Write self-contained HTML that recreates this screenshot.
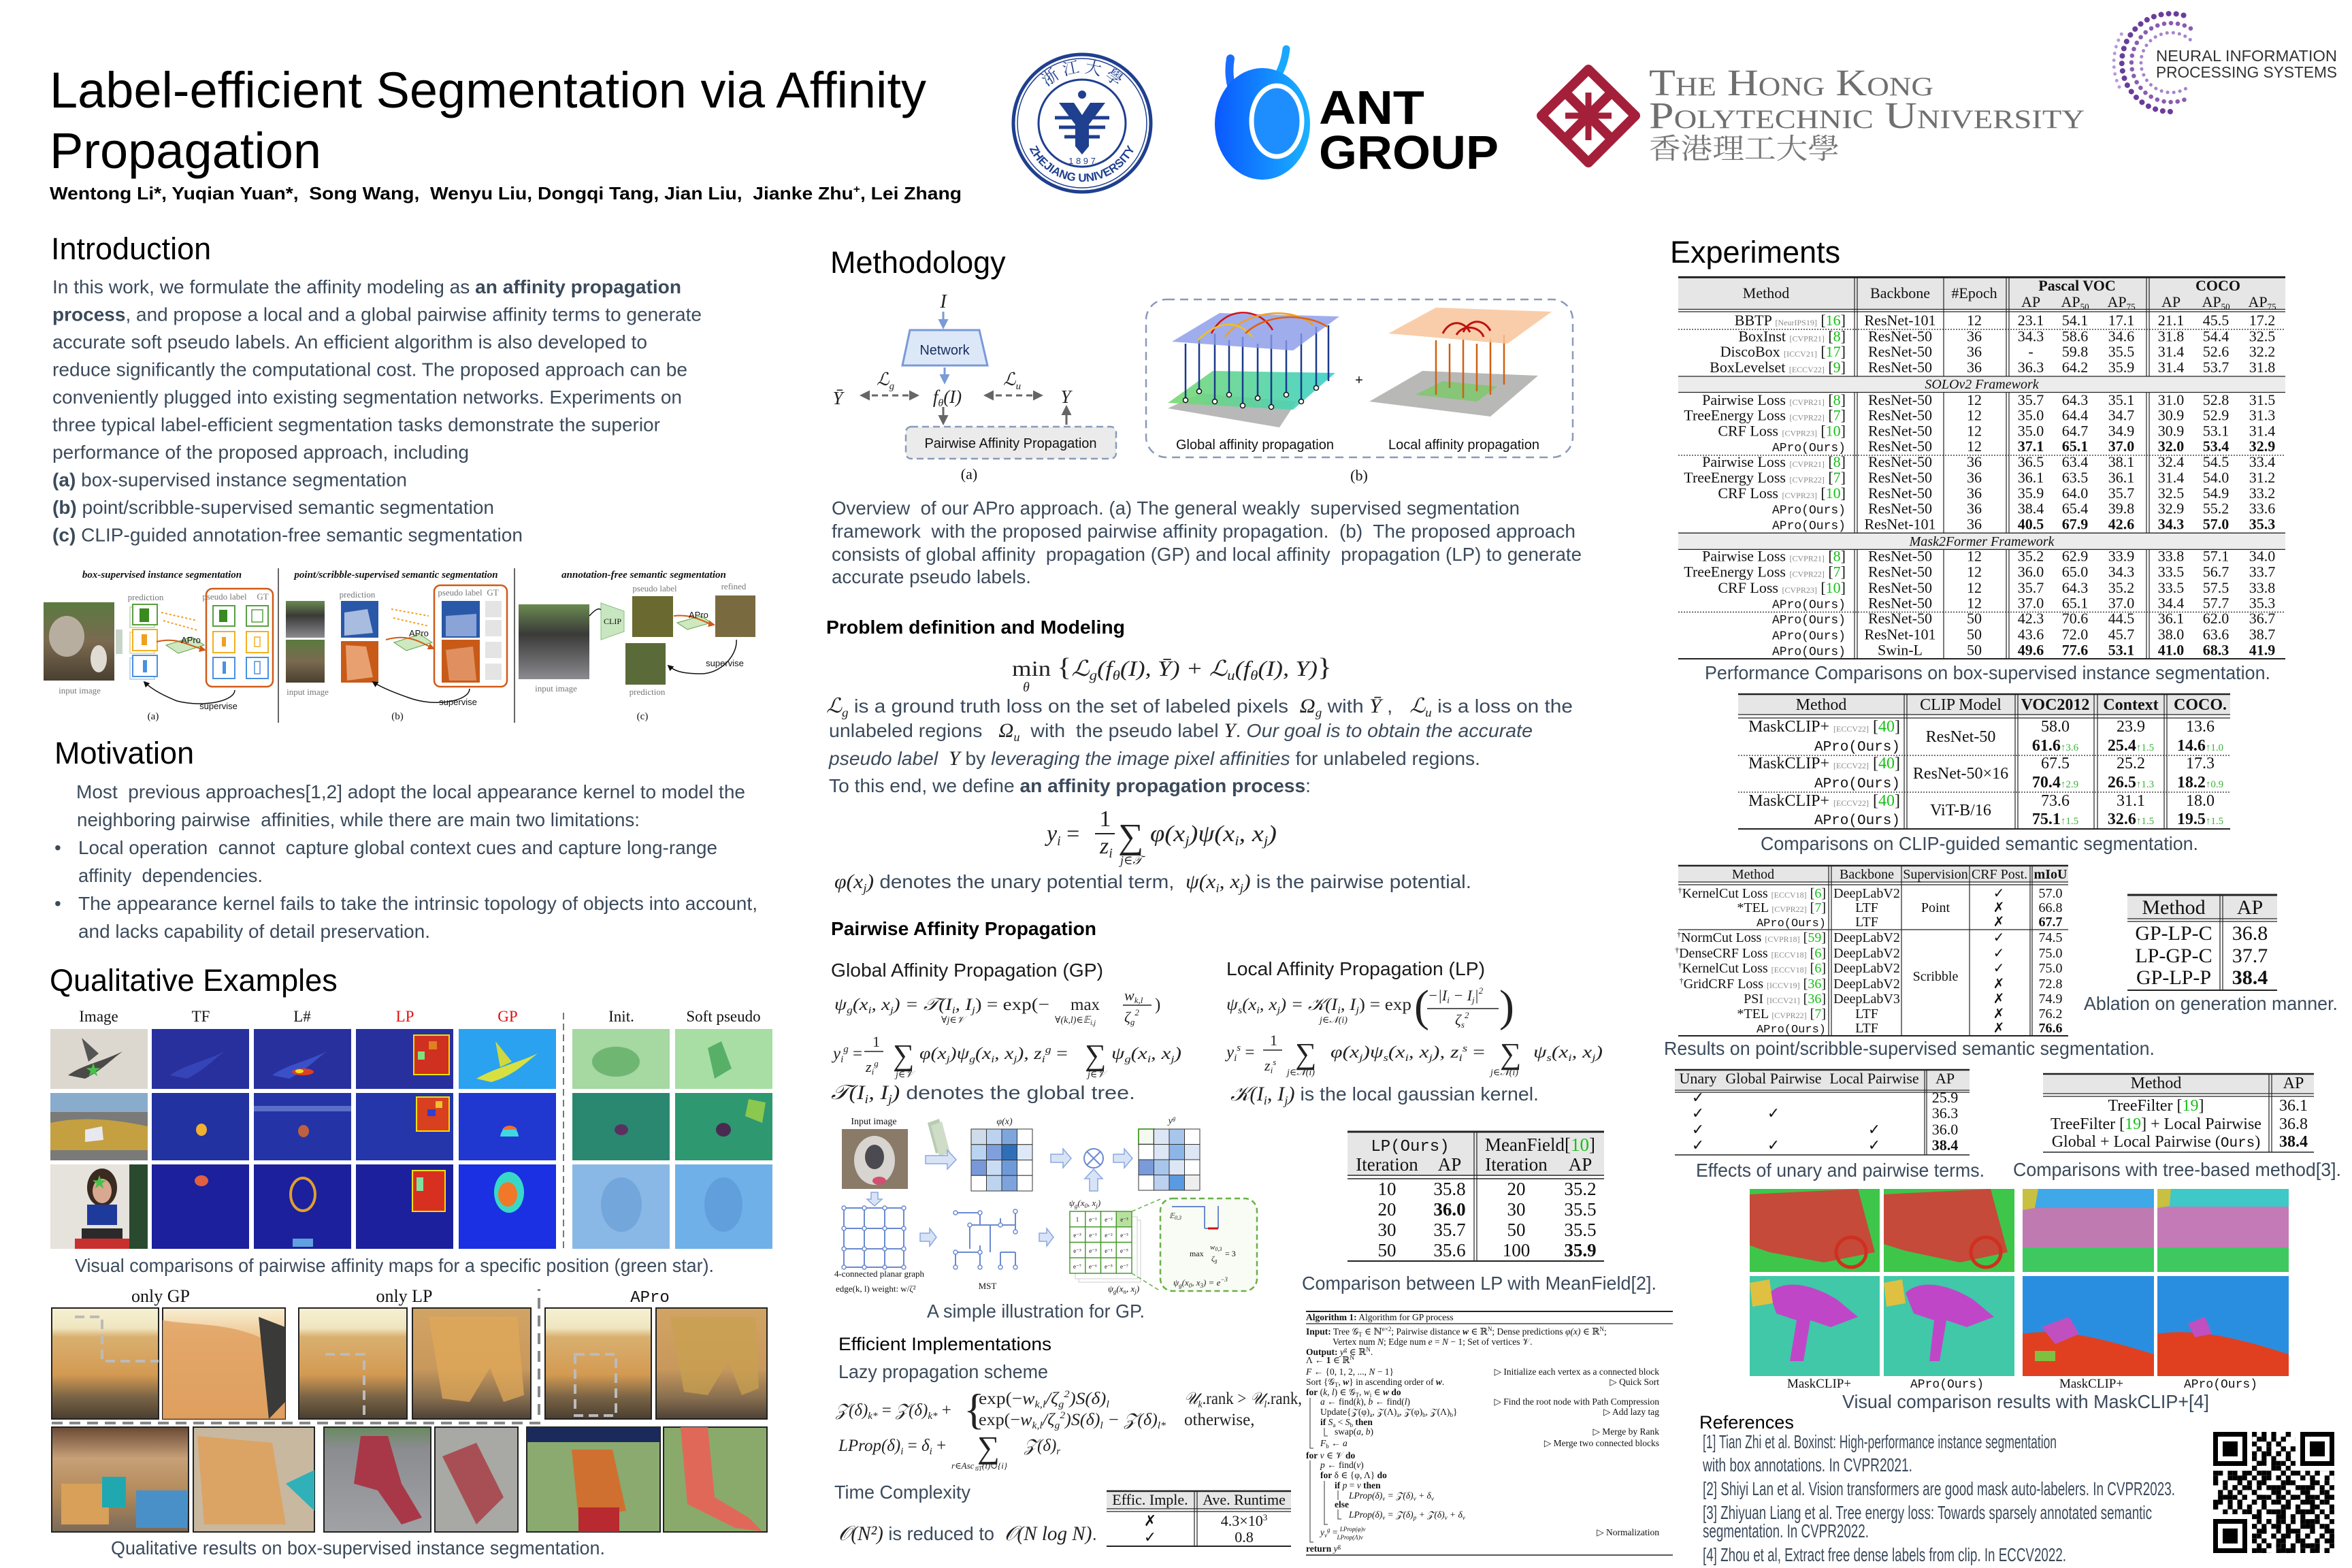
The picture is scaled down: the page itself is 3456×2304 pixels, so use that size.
<!DOCTYPE html>
<html><head><meta charset="utf-8">
<style>
html,body{margin:0;padding:0;background:#fff;}
svg{display:block;font-family:"Liberation Sans","Noto Sans CJK SC","DejaVu Sans",sans-serif;}
.s{fill:#3b4a5b;font-size:28px;}
.h{fill:#000;font-size:45px;}
.sf{font-family:"Liberation Serif","Noto Serif CJK SC","DejaVu Serif",serif;}
.mo{font-family:"Liberation Mono","DejaVu Sans Mono",monospace;}
.m{font-family:"Liberation Serif","DejaVu Serif",serif;font-style:italic;fill:#222;}
.tb{font-family:"Liberation Serif","DejaVu Sans",serif;fill:#111;}
.ven{font-size:12px;fill:#8a8a8a;}
.g{fill:#14c014;}
.bd{font-weight:bold;}
.al{font-family:"Liberation Serif","DejaVu Serif",serif;font-size:13.5px;fill:#111;}
.ln{stroke:#222;fill:none;}
</style></head><body>
<svg xmlns="http://www.w3.org/2000/svg" width="3456" height="2304" viewBox="0 0 3456 2304">
<defs>
<linearGradient id="ant" x1="0" y1="0" x2="1" y2="0"><stop offset="0" stop-color="#0a58ff"/><stop offset="1" stop-color="#1ab2ff"/></linearGradient>
<linearGradient id="cow" x1="0" y1="0" x2="0" y2="1"><stop offset="0" stop-color="#f6f0d2"/><stop offset=".18" stop-color="#efe6c0"/><stop offset=".26" stop-color="#d9b070"/><stop offset=".6" stop-color="#d39a52"/><stop offset=".8" stop-color="#7a6446"/><stop offset="1" stop-color="#4a3e30"/></linearGradient>
<linearGradient id="cowz" x1="0" y1="0" x2="0" y2="1"><stop offset="0" stop-color="#f8f0d4"/><stop offset=".3" stop-color="#ecc088"/><stop offset="1" stop-color="#d99c5a"/></linearGradient>
<linearGradient id="cowl" x1="0" y1="0" x2="0" y2="1"><stop offset="0" stop-color="#d2a464"/><stop offset=".55" stop-color="#c8985c"/><stop offset=".8" stop-color="#8a7050"/><stop offset="1" stop-color="#4e4236"/></linearGradient>
<linearGradient id="room" x1="0" y1="0" x2="0" y2="1"><stop offset="0" stop-color="#6a4a36"/><stop offset=".3" stop-color="#c8a078"/><stop offset=".65" stop-color="#b08858"/><stop offset="1" stop-color="#7a6a5a"/></linearGradient>
<linearGradient id="skate" x1="0" y1="0" x2="0" y2="1"><stop offset="0" stop-color="#6a8a60"/><stop offset=".2" stop-color="#8a8c90"/><stop offset="1" stop-color="#a0a2a6"/></linearGradient>
<linearGradient id="photo" x1="0" y1="0" x2="0" y2="1"><stop offset="0" stop-color="#5a7a40"/><stop offset=".5" stop-color="#7a6a50"/><stop offset="1" stop-color="#4a4030"/></linearGradient>
<linearGradient id="wed" x1="0" y1="0" x2="0" y2="1"><stop offset="0" stop-color="#6a8a50"/><stop offset=".4" stop-color="#3a3a38"/><stop offset="1" stop-color="#8a8a90"/></linearGradient>
<linearGradient id="gplane" x1="0" y1="0" x2="1" y2="0"><stop offset="0" stop-color="#7ad870"/><stop offset="1" stop-color="#38d0c8"/></linearGradient>
<pattern id="qa" x="3252" y="2104" width="35.6" height="35.6" patternUnits="userSpaceOnUse">
<rect x="0" y="0" width="7.2" height="7.2"/><rect x="14.2" y="7.1" width="7.2" height="7.2"/><rect x="28.5" y="7.1" width="7.2" height="7.2"/><rect x="7.1" y="21.4" width="7.2" height="7.2"/><rect x="21.4" y="14.2" width="7.2" height="7.2"/><rect x="0" y="28.5" width="7.2" height="7.2"/><rect x="21.4" y="28.5" width="7.2" height="7.2"/><rect x="28.5" y="21.4" width="7.2" height="7.2"/></pattern>
<pattern id="qb" x="3252" y="2104" width="49.8" height="49.8" patternUnits="userSpaceOnUse">
<rect x="7.1" y="0" width="7.2" height="7.2"/><rect x="35.6" y="0" width="7.2" height="7.2"/><rect x="21.4" y="7.1" width="7.2" height="7.2"/><rect x="42.7" y="14.2" width="7.2" height="7.2"/><rect x="0" y="21.4" width="7.2" height="7.2"/><rect x="14.2" y="21.4" width="7.2" height="7.2"/><rect x="28.5" y="28.5" width="7.2" height="7.2"/><rect x="7.1" y="35.6" width="7.2" height="7.2"/><rect x="35.6" y="35.6" width="7.2" height="7.2"/><rect x="21.4" y="42.7" width="7.2" height="7.2"/><rect x="42.7" y="42.7" width="7.2" height="7.2"/><rect x="14.2" y="42.7" width="7.2" height="7.2"/><rect x="0" y="7.1" width="7.2" height="7.2"/><rect x="28.5" y="14.2" width="7.2" height="7.2"/><rect x="42.7" y="28.5" width="7.2" height="7.2"/></pattern>
<marker id="ah" viewBox="0 0 10 10" refX="8" refY="5" markerWidth="5" markerHeight="5" orient="auto-start-reverse"><path d="M0 0 L10 5 L0 10 Z" fill="#666"/></marker>
<marker id="ab" viewBox="0 0 10 10" refX="8" refY="5" markerWidth="5" markerHeight="5" orient="auto-start-reverse"><path d="M0 0 L10 5 L0 10 Z" fill="#7a9ad8"/></marker>
<marker id="ak" viewBox="0 0 10 10" refX="8" refY="5" markerWidth="6" markerHeight="6" orient="auto"><path d="M0 0 L10 5 L0 10 Z" fill="#111"/></marker>
<marker id="ao" viewBox="0 0 10 10" refX="8" refY="5" markerWidth="5" markerHeight="5" orient="auto"><path d="M0 0 L10 5 L0 10 Z" fill="#d05a18"/></marker>
<path id="zjb" d="M -86 0 A 86 86 0 0 0 86 0" fill="none"/>
<path id="zjt" d="M -74 0 A 74 74 0 0 1 74 0" fill="none"/>
</defs>
<rect x="0" y="0" width="3456" height="2304" fill="#fff"/>

<!-- ============ HEADER ============ -->
<text x="73" y="158" font-size="74" fill="#000" textLength="1288" lengthAdjust="spacingAndGlyphs">Label-efficient Segmentation via Affinity</text>
<text x="73" y="247" font-size="74" fill="#000">Propagation</text>
<text x="73" y="293" font-size="26" font-weight="bold" fill="#000" style="white-space:pre" textLength="1340" lengthAdjust="spacingAndGlyphs">Wentong Li*, Yuqian Yuan*,  Song Wang,  Wenyu Liu, Dongqi Tang, Jian Liu,  Jianke Zhu<tspan font-size="16" dy="-10">+</tspan><tspan dy="10">, Lei Zhang</tspan></text>

<!-- ZJU seal -->
<g transform="translate(1590,181)">
<circle r="101" fill="#fff" stroke="#1f3f8f" stroke-width="5"/>
<circle r="95" fill="none" stroke="#1f3f8f" stroke-width="1.5"/>
<circle r="64" fill="none" stroke="#1f3f8f" stroke-width="3"/>
<text font-size="17" font-weight="bold" fill="#1f3f8f"><textPath href="#zjb" startOffset="50%" text-anchor="middle">ZHEJIANG UNIVERSITY</textPath></text>
<text font-size="24" fill="#1f3f8f" class="sf"><textPath href="#zjt" startOffset="50%" text-anchor="middle">浙 江 大 學</textPath></text>
<path d="M-34 -30 L-12 -30 L0 -12 L12 -30 L34 -30 L10 2 L10 34 L0 46 L-10 34 L-10 2 Z" fill="#1f3f8f"/>
<path d="M-40 -8 L40 -8 M-34 6 L34 6 M-26 20 L26 20" stroke="#1f3f8f" stroke-width="5"/>
<circle cx="0" cy="-42" r="6" fill="#1f3f8f"/>
<text x="0" y="60" font-size="13" fill="#1f3f8f" text-anchor="middle">1 8 9 7</text>
</g>

<!-- ANT GROUP -->
<path d="M1808 86 C1804 108 1808 128 1816 146" stroke="#1a6dff" stroke-width="12" fill="none" stroke-linecap="round"/>
<path d="M1890 72 C1888 88 1884 100 1876 114" stroke="#18a8ff" stroke-width="11" fill="none" stroke-linecap="round"/>
<ellipse cx="1855" cy="182" rx="70" ry="82" fill="url(#ant)"/>
<ellipse cx="1876" cy="178" rx="37" ry="52" fill="#1e8eff" stroke="#fff" stroke-width="7"/>
<text x="1938" y="182" font-size="70" font-weight="bold" fill="#000" textLength="155" lengthAdjust="spacingAndGlyphs">ANT</text>
<text x="1938" y="248" font-size="70" font-weight="bold" fill="#000" textLength="264" lengthAdjust="spacingAndGlyphs">GROUP</text>

<!-- PolyU -->
<g fill="none" stroke="#a4203a" stroke-width="14" stroke-linejoin="round">
<path d="M2334 102 L2403 170 L2334 239 L2265 170 Z"/>
<path d="M2300 136 L2370 206 M2368 136 L2298 206"/>
<path d="M2334 136 L2334 206 M2300 170 L2368 170" stroke-width="9"/>
</g>
<text x="2423" y="140" class="sf" font-size="55" fill="#6f6f6f" style="font-variant:small-caps" textLength="418" lengthAdjust="spacingAndGlyphs">The Hong Kong</text>
<text x="2423" y="188" class="sf" font-size="55" fill="#6f6f6f" style="font-variant:small-caps" textLength="640" lengthAdjust="spacingAndGlyphs">Polytechnic University</text>
<text x="2423" y="233" font-size="42" fill="#777" style="font-family:'Noto Serif CJK SC','Noto Sans CJK TC',serif" textLength="280" lengthAdjust="spacingAndGlyphs">香港理工大學</text>

<!-- NeurIPS -->
<g fill="none" stroke-linecap="round">
<path d="M3208.6 22.5 A72 72 0 1 0 3196.3 163.7" stroke="#6a3d9a" stroke-width="8" stroke-dasharray="0.1 11"/>
<path d="M3219 41.8 A58 58 0 1 0 3209.8 146.5" stroke="#8a5cb0" stroke-width="6.5" stroke-dasharray="0.1 10"/>
<path d="M3218.3 58.3 A44 44 0 1 0 3215.2 128" stroke="#a583cc" stroke-width="5" stroke-dasharray="0.1 9"/>
<path d="M3117.3 50 A84 84 0 0 0 3117.3 134" stroke="#b89ad8" stroke-width="5" stroke-dasharray="0.1 10"/>
</g>
<text x="3168" y="90" font-size="23" fill="#333" textLength="266" lengthAdjust="spacingAndGlyphs">NEURAL INFORMATION</text>
<text x="3168" y="114" font-size="23" fill="#333" textLength="266" lengthAdjust="spacingAndGlyphs">PROCESSING SYSTEMS</text>

<!-- ============ LEFT COLUMN ============ -->
<text x="75" y="381" class="h">Introduction</text>
<text x="77" y="431" class="s" textLength="924" lengthAdjust="spacingAndGlyphs">In this work, we formulate the affinity modeling as <tspan class="bd">an affinity propagation</tspan></text>
<text x="77" y="471.5" class="s" textLength="954" lengthAdjust="spacingAndGlyphs"><tspan class="bd">process</tspan>, and propose a local and a global pairwise affinity terms to generate</text>
<text x="77" y="512" class="s" textLength="874" lengthAdjust="spacingAndGlyphs">accurate soft pseudo labels. An efficient algorithm is also developed to</text>
<text x="77" y="552.5" class="s" textLength="933" lengthAdjust="spacingAndGlyphs">reduce significantly the computational cost. The proposed approach can be</text>
<text x="77" y="593" class="s" textLength="925" lengthAdjust="spacingAndGlyphs">conveniently plugged into existing segmentation networks. Experiments on</text>
<text x="77" y="633.5" class="s" textLength="893" lengthAdjust="spacingAndGlyphs">three typical label-efficient segmentation tasks demonstrate the superior</text>
<text x="77" y="674" class="s" textLength="612" lengthAdjust="spacingAndGlyphs">performance of the proposed approach, including</text>
<text x="77" y="714.5" class="s" textLength="521" lengthAdjust="spacingAndGlyphs"><tspan class="bd">(a)</tspan> box-supervised instance segmentation</text>
<text x="77" y="755" class="s" textLength="649" lengthAdjust="spacingAndGlyphs"><tspan class="bd">(b)</tspan> point/scribble-supervised semantic segmentation</text>
<text x="77" y="795.5" class="s" textLength="691" lengthAdjust="spacingAndGlyphs"><tspan class="bd">(c)</tspan> CLIP-guided annotation-free semantic segmentation</text>

<!-- intro figure -->
<g class="sf" font-style="italic" font-weight="bold" font-size="15" fill="#111" text-anchor="middle">
<text x="238" y="849">box-supervised instance segmentation</text>
<text x="582" y="849">point/scribble-supervised semantic segmentation</text>
<text x="946" y="849">annotation-free semantic segmentation</text>
</g>
<line x1="409" y1="835" x2="409" y2="1062" stroke="#333" stroke-width="1.5"/>
<line x1="756" y1="835" x2="756" y2="1062" stroke="#333" stroke-width="1.5"/>
<!-- panel a -->
<rect x="64" y="885" width="104" height="115" fill="url(#photo)"/>
<ellipse cx="98" cy="935" rx="26" ry="30" fill="#b8aea0"/><ellipse cx="145" cy="968" rx="12" ry="20" fill="#e0dcd4"/>
<rect x="170" y="925" width="10" height="36" fill="#c8d4c8"/>
<g class="sf" font-size="13" fill="#777" text-anchor="middle"><text x="214" y="882">prediction</text><text x="117" y="1019">input image</text><text x="452" y="1021">input image</text><text x="525" y="878">prediction</text><text x="817" y="1016">input image</text><text x="951" y="1021">prediction</text><text x="962" y="869">pseudo label</text><text x="1078" y="866">refined</text><text x="330" y="881">pseudo label</text><text x="386" y="881">GT</text><text x="676" y="875">pseudo label</text><text x="724" y="875">GT</text></g>
<g fill="#fff" stroke-width="2">
<rect x="191" y="892" width="36" height="30" stroke="#c8e0c0"/><rect x="195" y="888" width="36" height="30" stroke="#58a040"/>
<rect x="191" y="929" width="36" height="31" stroke="#f0dca0"/><rect x="195" y="925" width="36" height="31" stroke="#f0b020"/>
<rect x="191" y="967" width="36" height="31" stroke="#c0d8f0"/><rect x="195" y="963" width="36" height="31" stroke="#4a90e0"/>
<rect x="313" y="890" width="32" height="30" stroke="#58a040"/><rect x="362" y="890" width="32" height="30" stroke="#58a040"/>
<rect x="313" y="928" width="32" height="31" stroke="#f0b020"/><rect x="362" y="928" width="32" height="31" stroke="#f0b020"/>
<rect x="313" y="966" width="32" height="31" stroke="#4a90e0"/><rect x="362" y="966" width="32" height="31" stroke="#4a90e0"/>
</g>
<rect x="205" y="894" width="14" height="20" fill="#3a8a20"/><rect x="208" y="932" width="8" height="16" fill="#f0a020"/><rect x="210" y="970" width="6" height="18" fill="#4a90e0"/>
<rect x="322" y="896" width="12" height="18" fill="#3a8a20"/><rect x="326" y="936" width="6" height="14" fill="#f0a020"/><rect x="327" y="972" width="5" height="18" fill="#4a90e0"/>
<rect x="370" y="896" width="16" height="18" fill="none" stroke="#58a040" stroke-width="1.5"/><rect x="374" y="936" width="8" height="14" fill="none" stroke="#f0b020" stroke-width="1.5"/><rect x="374" y="972" width="8" height="18" fill="none" stroke="#4a90e0" stroke-width="1.5"/>
<rect x="303" y="865" width="98" height="144" rx="9" fill="none" stroke="#d05a18" stroke-width="2.5"/>
<path d="M244 948 L282 936 L300 948 L262 960 Z" fill="#cfe8c0" stroke="#5aa040" stroke-width="1"/>
<path d="M237 900 L290 912 M240 912 L290 926" stroke="#f0a020" stroke-width="2" stroke-dasharray="3 3"/>
<path d="M230 943 C260 935 280 950 301 955" stroke="#d05a18" stroke-width="2" fill="none" marker-end="url(#ao)"/>
<text x="266" y="945" font-size="13" fill="#111">APro</text>
<path d="M345 1014 C345 1030 300 1040 260 1030 C240 1022 222 1012 212 1002" stroke="#111" stroke-width="1.5" fill="none" marker-end="url(#ak)"/>
<text x="321" y="1042" font-size="13" fill="#111" text-anchor="middle">supervise</text>
<text x="225" y="1057" class="sf" font-size="15" fill="#111" text-anchor="middle">(a)</text>
<!-- panel b -->
<rect x="420" y="883" width="57" height="54" fill="url(#wed)"/><rect x="420" y="940" width="57" height="63" fill="url(#photo)"/>
<rect x="501" y="883" width="55" height="54" fill="#2a58a8"/><path d="M506 900 L540 895 L548 930 L506 934 Z" fill="#a8bce0"/>
<rect x="501" y="942" width="55" height="61" fill="#c85a18"/><path d="M508 948 L538 950 L548 995 L510 1000 Z" fill="#e8a070"/>
<path d="M579 944 L617 932 L635 944 L597 956 Z" fill="#cfe8c0" stroke="#5aa040" stroke-width="1"/>
<path d="M575 895 L630 905 M578 908 L630 920" stroke="#f0a020" stroke-width="2" stroke-dasharray="3 3"/>
<path d="M567 940 C600 930 620 945 637 953" stroke="#d05a18" stroke-width="2" fill="none" marker-end="url(#ao)"/>
<text x="601" y="935" font-size="13" fill="#111">APro</text>
<rect x="638" y="860" width="107" height="149" rx="9" fill="none" stroke="#d05a18" stroke-width="2.5"/>
<rect x="649" y="883" width="56" height="54" fill="#2a58a8"/><path d="M655 905 L700 902 L700 935 L655 935 Z" fill="#8aa4d8"/>
<rect x="649" y="940" width="56" height="63" fill="#c85a18"/><path d="M655 955 L695 950 L700 1000 L660 1000 Z" fill="#e09060"/>
<rect x="713" y="883" width="24" height="24" fill="#e4e4e4"/><rect x="713" y="911" width="24" height="24" fill="#e4e4e4"/><rect x="713" y="943" width="24" height="24" fill="#e4e4e4"/><rect x="713" y="975" width="24" height="24" fill="#e4e4e4"/>
<path d="M690 1012 C690 1030 640 1040 600 1025 C580 1018 560 1010 548 1002" stroke="#111" stroke-width="1.5" fill="none" marker-end="url(#ak)"/>
<text x="673" y="1036" font-size="13" fill="#111" text-anchor="middle">supervise</text>
<text x="584" y="1057" class="sf" font-size="15" fill="#111" text-anchor="middle">(b)</text>
<!-- panel c -->
<rect x="762" y="888" width="104" height="110" fill="url(#wed)"/>
<path d="M883 886 L917 898 L917 928 L883 940 Z" fill="#c8e6c0" stroke="#8ac080" stroke-width="1"/>
<text x="887" y="917" class="sf" font-size="12" fill="#111">CLIP</text>
<rect x="929" y="876" width="60" height="60" fill="#6a6a30"/><rect x="1051" y="875" width="59" height="61" fill="#7a6a40"/><rect x="919" y="945" width="59" height="61" fill="#5a6a38"/>
<path d="M866 905 C875 895 880 893 883 896" stroke="#111" stroke-width="1.5" fill="none"/>
<path d="M995 915 L1030 905 L1045 915 L1010 925 Z" fill="#cfe8c0" stroke="#5aa040" stroke-width="1"/>
<path d="M990 905 C1020 902 1035 915 1049 918" stroke="#d05a18" stroke-width="2" fill="none" marker-end="url(#ao)"/>
<text x="1012" y="908" font-size="13" fill="#111">APro</text>
<path d="M1082 940 C1084 962 1060 990 1030 990 C1000 990 990 985 982 978" stroke="#111" stroke-width="1.5" fill="none" marker-end="url(#ak)"/>
<text x="1065" y="979" font-size="13" fill="#111" text-anchor="middle">supervise</text>
<text x="944" y="1057" class="sf" font-size="15" fill="#111" text-anchor="middle">(c)</text>

<text x="80" y="1122" class="h">Motivation</text>
<text x="112" y="1173" class="s" style="white-space:pre" textLength="983" lengthAdjust="spacingAndGlyphs">Most  previous approaches[1,2] adopt the local appearance kernel to model the</text>
<text x="113" y="1214" class="s" style="white-space:pre" textLength="827" lengthAdjust="spacingAndGlyphs">neighboring pairwise  affinities, while there are main two limitations:</text>
<text x="80" y="1255" class="s">•</text>
<text x="115" y="1255" class="s" style="white-space:pre" textLength="939" lengthAdjust="spacingAndGlyphs">Local operation  cannot  capture global context cues and capture long-range</text>
<text x="115" y="1296" class="s" style="white-space:pre" textLength="271" lengthAdjust="spacingAndGlyphs">affinity  dependencies.</text>
<text x="80" y="1337" class="s">•</text>
<text x="115" y="1337" class="s" textLength="998" lengthAdjust="spacingAndGlyphs">The appearance kernel fails to take the intrinsic topology of objects into account,</text>
<text x="115" y="1378" class="s" textLength="517" lengthAdjust="spacingAndGlyphs">and lacks capability of detail preservation.</text>

<text x="73" y="1456" class="h">Qualitative Examples</text>
<g class="sf" font-size="23" text-anchor="middle" fill="#111">
<text x="145" y="1501">Image</text><text x="295" y="1501">TF</text><text x="444" y="1501">L#</text><text x="595" y="1501" fill="#e01010">LP</text><text x="746" y="1501" fill="#e01010">GP</text><text x="913" y="1501">Init.</text><text x="1063" y="1501">Soft pseudo</text>
</g>
<line x1="828" y1="1488" x2="828" y2="1838" stroke="#777" stroke-width="2" stroke-dasharray="10 6"/>
<!-- row 1 -->
<rect x="74" y="1512" width="143" height="88" fill="#dcd8d0"/>
<path d="M100 1580 C120 1565 150 1560 180 1545 C160 1560 150 1572 125 1585 Z" fill="#4a4a48"/><path d="M130 1560 L120 1525 L145 1548 Z" fill="#555"/>
<text x="126" y="1580" font-size="22" fill="#4ac04a">★</text>
<rect x="223" y="1512" width="143" height="88" fill="#28309e"/><path d="M250 1580 C270 1565 300 1560 330 1545 C310 1560 300 1572 275 1585 Z" fill="#3545b8"/>
<rect x="373" y="1512" width="143" height="88" fill="#28309e"/><path d="M400 1580 C420 1565 450 1560 480 1545 C460 1560 450 1572 425 1585 Z" fill="#3a50c8"/><ellipse cx="445" cy="1575" rx="16" ry="5" fill="#e04020"/><ellipse cx="440" cy="1574" rx="6" ry="3" fill="#f0e020"/>
<rect x="523" y="1512" width="143" height="88" fill="#28309e"/><rect x="608" y="1521" width="52" height="58" fill="#d03020" stroke="#f0e000" stroke-width="2"/><rect x="614" y="1545" width="10" height="12" fill="#80e080"/><rect x="630" y="1530" width="12" height="12" fill="#e08020"/>
<rect x="674" y="1512" width="143" height="88" fill="#2aa2f0"/><path d="M700 1585 C725 1570 760 1562 790 1548 C768 1565 755 1580 722 1590 Z" fill="#d8e040"/><path d="M735 1568 L728 1530 L752 1560 Z" fill="#d0d840"/>
<rect x="841" y="1512" width="143" height="88" fill="#a6d8a2"/><ellipse cx="905" cy="1560" rx="35" ry="22" fill="#5aa860" opacity=".7"/>
<rect x="992" y="1512" width="143" height="88" fill="#a8dea4"/><path d="M1040 1540 L1060 1530 L1075 1570 L1050 1585 Z" fill="#58b068"/>
<!-- row 2 -->
<rect x="74" y="1606" width="143" height="99" fill="#7a7a78"/><rect x="74" y="1606" width="143" height="28" fill="#8aaccc"/><path d="M74 1650 C120 1640 170 1645 217 1655 L217 1690 L74 1690 Z" fill="#c4a040"/><path d="M125 1660 L150 1655 L152 1675 L125 1678 Z" fill="#e8e8f0"/>
<rect x="223" y="1606" width="143" height="99" fill="#2232a0"/><ellipse cx="296" cy="1660" rx="8" ry="9" fill="#f0b030"/>
<rect x="373" y="1606" width="143" height="99" fill="#2434a6"/><rect x="373" y="1625" width="143" height="8" fill="#5a70c8"/><ellipse cx="446" cy="1662" rx="8" ry="9" fill="#c06040"/>
<rect x="523" y="1606" width="143" height="99" fill="#2436aa"/><rect x="612" y="1612" width="48" height="50" fill="#d84020" stroke="#f0e000" stroke-width="2"/><rect x="628" y="1630" width="12" height="10" fill="#3040d0"/><rect x="640" y="1618" width="10" height="10" fill="#f0c030"/>
<rect x="674" y="1606" width="143" height="99" fill="#2038d0"/><path d="M735 1670 C738 1650 760 1650 762 1670 Z" fill="#40d8e0"/><path d="M738 1660 C742 1652 756 1652 760 1660 Z" fill="#f07030"/>
<rect x="841" y="1606" width="143" height="99" fill="#2a8870"/><ellipse cx="913" cy="1660" rx="10" ry="8" fill="#5a3060"/>
<rect x="992" y="1606" width="143" height="99" fill="#2e9870"/><path d="M1100 1615 L1125 1620 L1120 1650 L1095 1640 Z" fill="#8ac850"/><ellipse cx="1063" cy="1660" rx="11" ry="10" fill="#4a2a50"/>
<!-- row 3 -->
<rect x="74" y="1711" width="143" height="124" fill="#e6e2dc"/><rect x="190" y="1711" width="27" height="124" fill="#2a4a30"/><ellipse cx="150" cy="1745" rx="22" ry="28" fill="#3a2a20"/><ellipse cx="150" cy="1750" rx="14" ry="18" fill="#d8a890"/><rect x="128" y="1770" width="44" height="30" fill="#1e3a9a"/><rect x="120" y="1805" width="60" height="30" fill="#2a2a2a"/><rect x="110" y="1820" width="80" height="15" fill="#c83030"/>
<text x="135" y="1745" font-size="22" fill="#4ac04a">★</text>
<rect x="223" y="1711" width="143" height="124" fill="#1c209c"/><ellipse cx="296" cy="1735" rx="10" ry="8" fill="#e06040"/>
<rect x="373" y="1711" width="143" height="124" fill="#1c209c"/><ellipse cx="445" cy="1755" rx="18" ry="24" fill="none" stroke="#e0a030" stroke-width="4"/><rect x="430" y="1820" width="30" height="12" fill="#60a0e0"/>
<rect x="523" y="1711" width="143" height="124" fill="#1c209c"/><rect x="606" y="1720" width="48" height="60" fill="#d83020" stroke="#f0e000" stroke-width="2"/><rect x="612" y="1730" width="10" height="20" fill="#80e0a0"/>
<rect x="674" y="1711" width="143" height="124" fill="#1a30e2"/><ellipse cx="748" cy="1752" rx="22" ry="30" fill="#38d8c8"/><ellipse cx="746" cy="1755" rx="14" ry="18" fill="#f07828"/>
<rect x="841" y="1711" width="143" height="124" fill="#8ab8e6"/><ellipse cx="913" cy="1770" rx="30" ry="40" fill="#6a9ed6" opacity=".7"/>
<rect x="992" y="1711" width="143" height="124" fill="#70b0e8"/><ellipse cx="1063" cy="1770" rx="28" ry="40" fill="#5a98d6" opacity=".7"/>
<text x="110" y="1869" class="s" font-size="27" textLength="939" lengthAdjust="spacingAndGlyphs">Visual comparisons of pairwise affinity maps for a specific position (green star).</text>

<!-- qualitative 2 -->
<g class="sf" font-size="26" text-anchor="middle" fill="#111"><text x="236" y="1913">only GP</text><text x="594" y="1913">only LP</text></g>
<text x="955" y="1913" class="mo" font-size="24" text-anchor="middle" fill="#111">APro</text>
<g stroke="#222" stroke-width="2">
<rect x="76" y="1922" width="157" height="163" fill="url(#cow)"/><rect x="239" y="1922" width="180" height="163" fill="url(#cowz)"/>
<rect x="439" y="1922" width="159" height="163" fill="url(#cow)"/><rect x="606" y="1922" width="174" height="163" fill="url(#cowl)"/>
<rect x="801" y="1922" width="156" height="163" fill="url(#cow)"/><rect x="964" y="1922" width="163" height="163" fill="url(#cowl)"/>
</g>
<path d="M239 1940 C300 1950 350 1940 419 1985 L419 2085 L239 2085 Z" fill="#e0a060" opacity=".8"/>
<path d="M380 1935 L419 1950 L419 2060 L395 2085 Z" fill="#3a3a38"/>
<path d="M630 1935 L760 1935 L770 2050 L740 2060 L720 2010 L690 2060 L650 2055 Z" fill="#e0a858" opacity=".75"/>
<path d="M985 1935 L1110 1935 L1115 2040 L1090 2050 L1070 2000 L1040 2050 L1005 2045 Z" fill="#c8a050" opacity=".75"/>
<g fill="none" stroke="#bbb" stroke-width="4" stroke-dasharray="14 8">
<path d="M110 1935 L150 1935 L150 2000 L233 2000"/><path d="M478 1990 L535 1990 L535 2085"/><path d="M845 1990 L905 1990 L905 2080 L845 2080 Z"/>
</g>
<g fill="none" stroke="#888" stroke-width="4" stroke-dasharray="16 10">
<path d="M76 2091 L792 2091 L792 1894"/>
</g>
<g stroke="#222" stroke-width="2">
<rect x="76" y="2097" width="201" height="154" fill="url(#room)"/><rect x="284" y="2097" width="178" height="154" fill="#c8b8a0"/>
<rect x="476" y="2097" width="157" height="154" fill="url(#skate)"/><rect x="639" y="2097" width="122" height="154" fill="#a8a8a4"/>
<rect x="774" y="2097" width="196" height="154" fill="#8aaa70"/><rect x="975" y="2097" width="152" height="154" fill="#8aaa6c"/>
</g>
<rect x="90" y="2180" width="70" height="60" fill="#d8a058"/><rect x="200" y="2190" width="75" height="55" fill="#4a90c8"/><rect x="150" y="2170" width="35" height="45" fill="#20a8b0"/>
<path d="M290 2110 L400 2120 L420 2240 L300 2240 Z" fill="#dca464"/><path d="M420 2180 L462 2160 L462 2220 Z" fill="#30b0b8"/>
<path d="M530 2110 L570 2110 L590 2180 L620 2230 L590 2240 L555 2190 L520 2180 Z" fill="#a83848"/>
<path d="M650 2140 L700 2120 L740 2200 L700 2240 Z" fill="#a84048" opacity=".85"/>
<rect x="774" y="2097" width="196" height="22" fill="#1a2a5a"/><path d="M840 2130 L900 2130 L920 2220 L850 2230 Z" fill="#d07030"/><rect x="850" y="2215" width="60" height="36" fill="#b82a30"/>
<path d="M1000 2097 L1040 2097 L1050 2200 L1100 2230 L1120 2250 L1080 2245 L1010 2210 Z" fill="#e06858"/>
<text x="163" y="2284" class="s" font-size="27" textLength="726" lengthAdjust="spacingAndGlyphs">Qualitative results on box-supervised instance segmentation.</text>

<!-- ============ MIDDLE COLUMN ============ -->
<text x="1220" y="401" class="h">Methodology</text>
<!-- fig a -->
<text x="1386" y="452" class="m" font-size="28" text-anchor="middle">I</text>
<line x1="1386" y1="458" x2="1386" y2="481" stroke="#7a9ad8" stroke-width="3" marker-end="url(#ab)"/>
<path d="M1337 485 L1439 485 L1451 537 L1326 537 Z" fill="#dce8f8" stroke="#7a9ad8" stroke-width="3"/>
<text x="1388" y="521" font-size="20" fill="#1a3060" text-anchor="middle">Network</text>
<line x1="1388" y1="540" x2="1388" y2="562" stroke="#7a9ad8" stroke-width="3" marker-end="url(#ab)"/>
<text x="1392" y="592" class="m" font-size="27" text-anchor="middle">f<tspan font-size="16" dy="5">θ</tspan><tspan dy="-5">(I)</tspan></text>
<text x="1231" y="594" class="m" font-size="27" text-anchor="middle">Ȳ</text>
<text x="1566" y="592" class="m" font-size="27" text-anchor="middle">Y</text>
<text x="1301" y="566" class="m" font-size="26" text-anchor="middle">ℒ<tspan font-size="15" dy="6">g</tspan></text>
<text x="1487" y="566" class="m" font-size="26" text-anchor="middle">ℒ<tspan font-size="15" dy="6">u</tspan></text>
<line x1="1266" y1="581" x2="1348" y2="581" stroke="#666" stroke-width="3" stroke-dasharray="9 6" marker-start="url(#ah)" marker-end="url(#ah)"/>
<line x1="1448" y1="581" x2="1530" y2="581" stroke="#666" stroke-width="3" stroke-dasharray="9 6" marker-start="url(#ah)" marker-end="url(#ah)"/>
<line x1="1386" y1="598" x2="1386" y2="622" stroke="#666" stroke-width="3" marker-end="url(#ah)"/>
<line x1="1567" y1="624" x2="1567" y2="598" stroke="#666" stroke-width="3" marker-end="url(#ah)"/>
<rect x="1331" y="627" width="309" height="47" rx="8" fill="#ebebeb" stroke="#8a9ab8" stroke-width="2.5" stroke-dasharray="10 6"/>
<text x="1485" y="658" font-size="20" fill="#111" text-anchor="middle">Pairwise Affinity Propagation</text>
<text x="1424" y="704" class="sf" font-size="22" fill="#111" text-anchor="middle">(a)</text>
<!-- fig b -->
<rect x="1684" y="440" width="627" height="232" rx="30" fill="none" stroke="#8a9ab8" stroke-width="2.5" stroke-dasharray="12 8"/>
<path d="M1716 600 L1764 578 L1905 590 L1880 628 Z" fill="#888" opacity=".6"/>
<path d="M1716 592 L1782 545 L1962 548 L1900 602 Z" fill="url(#gplane)" opacity=".9"/>
<g stroke="#1a3a8a" stroke-width="2.5">
<line x1="1742" y1="505" x2="1742" y2="588"/><line x1="1762" y1="498" x2="1762" y2="575"/><line x1="1785" y1="490" x2="1785" y2="590"/><line x1="1806" y1="500" x2="1806" y2="580"/><line x1="1826" y1="495" x2="1826" y2="596"/><line x1="1848" y1="505" x2="1848" y2="585"/><line x1="1868" y1="492" x2="1868" y2="598"/><line x1="1890" y1="500" x2="1890" y2="580"/><line x1="1912" y1="490" x2="1912" y2="590"/><line x1="1934" y1="480" x2="1934" y2="570"/><line x1="1952" y1="478" x2="1952" y2="560"/>
</g>
<path d="M1722 502 L1792 460 L1968 465 L1900 515 Z" fill="#8898e8" opacity=".8"/>
<g fill="none" stroke-width="2.5"><path d="M1780 490 C1800 450 1850 450 1870 485" stroke="#d01010"/><path d="M1800 495 C1830 455 1900 450 1930 478" stroke="#f0a020"/><path d="M1760 500 C1790 470 1820 470 1840 495" stroke="#f0c020"/><path d="M1830 490 C1860 460 1920 460 1950 480" stroke="#e06010"/></g>
<g fill="#fff" stroke="#111" stroke-width="1.5"><circle cx="1742" cy="588" r="3.5"/><circle cx="1785" cy="590" r="3.5"/><circle cx="1826" cy="596" r="3.5"/><circle cx="1868" cy="598" r="3.5"/><circle cx="1912" cy="590" r="3.5"/><circle cx="1806" cy="580" r="3.5"/><circle cx="1848" cy="585" r="3.5"/><circle cx="1890" cy="580" r="3.5"/><circle cx="1762" cy="575" r="3.5"/><circle cx="1934" cy="570" r="3.5"/></g>
<text x="1997" y="565" font-size="20" fill="#111" text-anchor="middle">+</text>
<path d="M2012 590 L2090 545 L2260 552 L2190 612 Z" fill="#9a9a98" opacity=".7"/>
<path d="M2080 580 L2120 560 L2200 568 L2170 590 Z" fill="#7ac868" opacity=".8"/>
<g stroke="#d06010" stroke-width="2.5"><line x1="2110" y1="500" x2="2110" y2="580"/><line x1="2130" y1="505" x2="2130" y2="570"/><line x1="2150" y1="498" x2="2150" y2="585"/><line x1="2170" y1="505" x2="2170" y2="575"/><line x1="2190" y1="498" x2="2190" y2="580"/><line x1="2210" y1="492" x2="2210" y2="565"/></g>
<path d="M2040 490 L2110 452 L2280 458 L2215 505 Z" fill="#f8c49a" opacity=".85"/>
<g fill="none" stroke="#c01010" stroke-width="3"><path d="M2120 490 C2130 470 2150 470 2160 488"/><path d="M2150 488 C2160 468 2180 468 2190 486"/><path d="M2140 492 C2150 475 2175 480 2180 495"/></g>
<g font-size="20" fill="#111" text-anchor="middle"><text x="1844" y="660">Global affinity propagation</text><text x="2151" y="660">Local affinity propagation</text></g>
<text x="1997" y="706" class="sf" font-size="22" fill="#111" text-anchor="middle">(b)</text>

<text x="1222" y="756" class="s" style="white-space:pre" textLength="1011" lengthAdjust="spacingAndGlyphs">Overview  of our APro approach. (a) The general weakly  supervised segmentation</text>
<text x="1222" y="790" class="s" style="white-space:pre" textLength="1093" lengthAdjust="spacingAndGlyphs">framework  with the proposed pairwise affinity propagation.  (b)  The proposed approach</text>
<text x="1222" y="824" class="s" style="white-space:pre" textLength="1102" lengthAdjust="spacingAndGlyphs">consists of global affinity  propagation (GP) and local affinity  propagation (LP) to generate</text>
<text x="1222" y="857" class="s" textLength="293" lengthAdjust="spacingAndGlyphs">accurate pseudo labels.</text>

<text x="1214" y="931" font-size="28" font-weight="bold" fill="#000" textLength="439" lengthAdjust="spacingAndGlyphs">Problem definition and Modeling</text>
<text x="1487" y="993" class="sf" font-size="32" fill="#222" textLength="470" lengthAdjust="spacingAndGlyphs">min <tspan font-size="38">{</tspan><tspan font-style="italic">ℒ<tspan font-size="20" dy="6">g</tspan><tspan dy="-6">(f</tspan><tspan font-size="20" dy="6">θ</tspan><tspan dy="-6">(I), Ȳ) + ℒ</tspan><tspan font-size="20" dy="6">u</tspan><tspan dy="-6">(f</tspan><tspan font-size="20" dy="6">θ</tspan><tspan dy="-6">(I), Y)</tspan></tspan><tspan font-size="38">}</tspan></text>
<text x="1503" y="1016" class="m" font-size="20">θ</text>
<text x="1214" y="1047" class="s" style="white-space:pre" textLength="1097" lengthAdjust="spacingAndGlyphs"><tspan class="m" font-size="30">ℒ<tspan font-size="18" dy="6">g</tspan></tspan><tspan dy="-6"> is a ground truth loss on the set of labeled pixels  </tspan><tspan class="m" font-size="30">Ω<tspan font-size="18" dy="6">g</tspan></tspan><tspan dy="-6"> with </tspan><tspan class="m" font-size="30">Ȳ</tspan> ,   <tspan class="m" font-size="30">ℒ<tspan font-size="18" dy="6">u</tspan></tspan><tspan dy="-6"> is a loss on the</tspan></text>
<text x="1218" y="1083" class="s" style="white-space:pre" textLength="1034" lengthAdjust="spacingAndGlyphs">unlabeled regions   <tspan class="m" font-size="30">Ω<tspan font-size="18" dy="6">u</tspan></tspan><tspan dy="-6">  with  the pseudo label </tspan><tspan class="m" font-size="30">Y</tspan>. <tspan font-style="italic">Our goal is to obtain the accurate</tspan></text>
<text x="1218" y="1124" class="s" style="white-space:pre" textLength="957" lengthAdjust="spacingAndGlyphs"><tspan font-style="italic">pseudo label  </tspan><tspan class="m" font-size="30">Y</tspan> by <tspan font-style="italic">leveraging the image pixel affinities</tspan> for unlabeled regions.</text>
<text x="1218" y="1164" class="s" textLength="708" lengthAdjust="spacingAndGlyphs">To this end, we define <tspan class="bd">an affinity propagation process</tspan>:</text>
<!-- y_i eq -->
<g class="m" font-size="34">
<text x="1538" y="1236">y<tspan font-size="20" dy="6">i</tspan><tspan dy="-6" font-style="normal"> =</tspan></text>
<text x="1624" y="1214" font-style="normal" text-anchor="middle">1</text>
<text x="1616" y="1254">z<tspan font-size="20" dy="6">i</tspan></text>
<text x="1643" y="1246" font-size="52" font-style="normal">∑</text>
<text x="1646" y="1270" font-size="18">j∈𝒯</text>
<text x="1690" y="1236" textLength="186" lengthAdjust="spacingAndGlyphs">φ(x<tspan font-size="20" dy="6">j</tspan><tspan dy="-6">)ψ(x</tspan><tspan font-size="20" dy="6">i</tspan><tspan dy="-6">, x</tspan><tspan font-size="20" dy="6">j</tspan><tspan dy="-6">)</tspan></text>
</g>
<line x1="1609" y1="1225" x2="1638" y2="1225" stroke="#222" stroke-width="2"/>
<text x="1226" y="1305" class="s" style="white-space:pre" textLength="936" lengthAdjust="spacingAndGlyphs"><tspan class="m" font-size="30">φ(x<tspan font-size="18" dy="6">j</tspan><tspan dy="-6">)</tspan></tspan> denotes the unary potential term,  <tspan class="m" font-size="30">ψ(x<tspan font-size="18" dy="6">i</tspan><tspan dy="-6">, x</tspan><tspan font-size="18" dy="6">j</tspan><tspan dy="-6">)</tspan></tspan> is the pairwise potential.</text>

<text x="1221" y="1374" font-size="28" font-weight="bold" fill="#000" textLength="390" lengthAdjust="spacingAndGlyphs">Pairwise Affinity Propagation</text>
<text x="1221" y="1435" font-size="28" fill="#1a1a1a" textLength="400" lengthAdjust="spacingAndGlyphs">Global Affinity Propagation (GP)</text>
<text x="1802" y="1433" font-size="28" fill="#1a1a1a" textLength="380" lengthAdjust="spacingAndGlyphs">Local Affinity Propagation (LP)</text>
<!-- GP eq -->
<g class="m" font-size="25">
<text x="1226" y="1484" textLength="316" lengthAdjust="spacingAndGlyphs">ψ<tspan font-size="15" dy="5">g</tspan><tspan dy="-5">(x</tspan><tspan font-size="15" dy="5">i</tspan><tspan dy="-5">, x</tspan><tspan font-size="15" dy="5">j</tspan><tspan dy="-5">) = 𝒯(I</tspan><tspan font-size="15" dy="5">i</tspan><tspan dy="-5">, I</tspan><tspan font-size="15" dy="5">j</tspan><tspan dy="-5" font-style="normal">) = exp(−</tspan></text>
<text x="1573" y="1484" font-style="normal">max</text>
<text x="1550" y="1503" font-size="14">∀(k,l)∈𝔼<tspan font-size="10" dy="3">i,j</tspan></text>
<text x="1383" y="1503" font-size="14">∀j∈𝒱</text>
<text x="1652" y="1470" font-size="22">w<tspan font-size="13" dy="4">k,l</tspan></text>
<text x="1652" y="1502" font-size="22">ζ<tspan font-size="13" dy="4">g</tspan><tspan font-size="13" dy="-14">2</tspan></text>
<text x="1697" y="1484" font-style="normal">)</text>
<text x="1224" y="1556">y<tspan font-size="15" dy="5">i</tspan><tspan font-size="15" dy="-15">g</tspan><tspan dy="10" font-style="normal"> =</tspan></text>
<text x="1282" y="1538" font-style="normal" font-size="22">1</text>
<text x="1272" y="1575" font-size="22">z<tspan font-size="13" dy="4">i</tspan><tspan font-size="13" dy="-12">g</tspan></text>
<text x="1312" y="1565" font-size="44" font-style="normal">∑</text>
<text x="1316" y="1583" font-size="14">j∈𝒱</text>
<text x="1351" y="1556" textLength="218" lengthAdjust="spacingAndGlyphs">φ(x<tspan font-size="15" dy="5">j</tspan><tspan dy="-5">)ψ</tspan><tspan font-size="15" dy="5">g</tspan><tspan dy="-5">(x</tspan><tspan font-size="15" dy="5">i</tspan><tspan dy="-5">, x</tspan><tspan font-size="15" dy="5">j</tspan><tspan dy="-5">),  z</tspan><tspan font-size="15" dy="5">i</tspan><tspan font-size="15" dy="-14">g</tspan><tspan dy="9" font-style="normal"> =</tspan></text>
<text x="1594" y="1565" font-size="44" font-style="normal">∑</text>
<text x="1598" y="1583" font-size="14">j∈𝒱</text>
<text x="1633" y="1556" textLength="103" lengthAdjust="spacingAndGlyphs">ψ<tspan font-size="15" dy="5">g</tspan><tspan dy="-5">(x</tspan><tspan font-size="15" dy="5">i</tspan><tspan dy="-5">, x</tspan><tspan font-size="15" dy="5">j</tspan><tspan dy="-5">)</tspan></text>
</g>
<line x1="1270" y1="1545" x2="1298" y2="1545" stroke="#222" stroke-width="1.5"/>
<line x1="1650" y1="1477" x2="1692" y2="1477" stroke="#222" stroke-width="1.5"/>
<text x="1221" y="1615" class="s" textLength="447" lengthAdjust="spacingAndGlyphs"><tspan class="m" font-size="30">𝒯(I<tspan font-size="18" dy="6">i</tspan><tspan dy="-6">, I</tspan><tspan font-size="18" dy="6">j</tspan><tspan dy="-6">)</tspan></tspan>  denotes the global tree.</text>
<!-- LP eq -->
<g class="m" font-size="25">
<text x="1802" y="1484" textLength="272" lengthAdjust="spacingAndGlyphs">ψ<tspan font-size="15" dy="5">s</tspan><tspan dy="-5">(x</tspan><tspan font-size="15" dy="5">i</tspan><tspan dy="-5">, x</tspan><tspan font-size="15" dy="5">j</tspan><tspan dy="-5">) = 𝒦(I</tspan><tspan font-size="15" dy="5">i</tspan><tspan dy="-5">, I</tspan><tspan font-size="15" dy="5">j</tspan><tspan dy="-5" font-style="normal">) = exp</tspan></text>
<text x="1939" y="1503" font-size="14">j∈𝒩(i)</text>
<text x="2078" y="1500" font-size="66" font-style="normal">(</text>
<text x="2098" y="1470" font-size="22">−|I<tspan font-size="13" dy="4">i</tspan><tspan dy="-4"> − I</tspan><tspan font-size="13" dy="4">j</tspan><tspan dy="-4">|</tspan><tspan font-size="13" dy="-10">2</tspan></text>
<text x="2138" y="1506" font-size="22">ζ<tspan font-size="13" dy="4">s</tspan><tspan font-size="13" dy="-14">2</tspan></text>
<text x="2203" y="1500" font-size="66" font-style="normal">)</text>
<text x="1802" y="1554">y<tspan font-size="15" dy="5">i</tspan><tspan font-size="15" dy="-15">s</tspan><tspan dy="10" font-style="normal"> =</tspan></text>
<text x="1866" y="1536" font-style="normal" font-size="22">1</text>
<text x="1858" y="1573" font-size="22">z<tspan font-size="13" dy="4">i</tspan><tspan font-size="13" dy="-12">s</tspan></text>
<text x="1903" y="1563" font-size="44" font-style="normal">∑</text>
<text x="1891" y="1580" font-size="14">j∈𝒩(i)</text>
<text x="1955" y="1554" textLength="227" lengthAdjust="spacingAndGlyphs">φ(x<tspan font-size="15" dy="5">j</tspan><tspan dy="-5">)ψ</tspan><tspan font-size="15" dy="5">s</tspan><tspan dy="-5">(x</tspan><tspan font-size="15" dy="5">i</tspan><tspan dy="-5">, x</tspan><tspan font-size="15" dy="5">j</tspan><tspan dy="-5">),  z</tspan><tspan font-size="15" dy="5">i</tspan><tspan font-size="15" dy="-14">s</tspan><tspan dy="9" font-style="normal"> =</tspan></text>
<text x="2204" y="1563" font-size="44" font-style="normal">∑</text>
<text x="2190" y="1580" font-size="14">j∈𝒩(i)</text>
<text x="2253" y="1554" textLength="102" lengthAdjust="spacingAndGlyphs">ψ<tspan font-size="15" dy="5">s</tspan><tspan dy="-5">(x</tspan><tspan font-size="15" dy="5">i</tspan><tspan dy="-5">, x</tspan><tspan font-size="15" dy="5">j</tspan><tspan dy="-5">)</tspan></text>
</g>
<line x1="2097" y1="1482" x2="2202" y2="1482" stroke="#222" stroke-width="1.5"/>
<line x1="1856" y1="1543" x2="1884" y2="1543" stroke="#222" stroke-width="1.5"/>
<text x="1808" y="1617" class="s" textLength="453" lengthAdjust="spacingAndGlyphs"><tspan class="m" font-size="30">𝒦(I<tspan font-size="18" dy="6">i</tspan><tspan dy="-6">, I</tspan><tspan font-size="18" dy="6">j</tspan><tspan dy="-6">)</tspan></tspan>  is the local gaussian kernel.</text>

<!-- GP illustration -->
<text x="1284" y="1652" class="sf" font-size="14" fill="#111" text-anchor="middle">Input image</text>
<rect x="1237" y="1659" width="97" height="88" fill="#8a7a68"/><ellipse cx="1285" cy="1705" rx="30" ry="36" fill="#d8d4d0"/><ellipse cx="1285" cy="1700" rx="14" ry="18" fill="#4a4a50"/><ellipse cx="1292" cy="1735" rx="10" ry="6" fill="#d05070"/>
<path d="M1363 1650 L1380 1644 L1392 1690 L1375 1695 Z" fill="#b8ccb0"/><path d="M1368 1654 L1384 1648 L1396 1694 L1380 1699 Z" fill="#cfdcc8"/>
<g fill="#d8e4f6" stroke="#8aa8e0" stroke-width="1.5">
<path d="M1360 1698 L1392 1698 L1392 1690 L1405 1704 L1392 1718 L1392 1710 L1360 1710 Z"/>
<path d="M1544 1696 L1562 1696 L1562 1688 L1574 1702 L1562 1716 L1562 1708 L1544 1708 Z"/>
<path d="M1636 1696 L1652 1696 L1652 1688 L1664 1702 L1652 1716 L1652 1708 L1636 1708 Z"/>
<path d="M1601 1750 L1601 1732 L1594 1732 L1607 1718 L1620 1732 L1613 1732 L1613 1750 Z"/>
<path d="M1280 1752 L1290 1752 L1290 1762 L1296 1762 L1285 1772 L1274 1762 L1280 1762 Z"/>
<path d="M1352 1812 L1366 1812 L1366 1805 L1376 1818 L1366 1831 L1366 1824 L1352 1824 Z"/>
<path d="M1527 1812 L1538 1812 L1538 1805 L1548 1818 L1538 1831 L1538 1824 L1527 1824 Z"/>
<path d="M1762 1842 L1772 1842 L1772 1852 L1778 1852 L1767 1862 L1756 1852 L1762 1852 Z"/>
<path d="M1762 1795 L1772 1795 L1772 1805 L1778 1805 L1767 1815 L1756 1805 L1762 1805 Z"/>
</g>
<text x="1476" y="1652" class="m" font-size="14" text-anchor="middle">φ(x)</text>
<g stroke="#333" stroke-width="1">
<rect x="1427" y="1659" width="22.5" height="22.75" fill="#d0dcea"/><rect x="1449.5" y="1659" width="22.5" height="22.75" fill="#bcd2ee"/><rect x="1472" y="1659" width="22.5" height="22.75" fill="#7ea6dc"/><rect x="1494.5" y="1659" width="22.5" height="22.75" fill="#fff"/>
<rect x="1427" y="1681.75" width="22.5" height="22.75" fill="#b8d4f0"/><rect x="1449.5" y="1681.75" width="22.5" height="22.75" fill="#7fa0dc"/><rect x="1472" y="1681.75" width="22.5" height="22.75" fill="#2f6fb8"/><rect x="1494.5" y="1681.75" width="22.5" height="22.75" fill="#dfe8f6"/>
<rect x="1427" y="1704.5" width="22.5" height="22.75" fill="#7898d8"/><rect x="1449.5" y="1704.5" width="22.5" height="22.75" fill="#c8dcf4"/><rect x="1472" y="1704.5" width="22.5" height="22.75" fill="#6f9ad8"/><rect x="1494.5" y="1704.5" width="22.5" height="22.75" fill="#fff"/>
<rect x="1427" y="1727.25" width="22.5" height="22.75" fill="#fff"/><rect x="1449.5" y="1727.25" width="22.5" height="22.75" fill="#bcd4ee"/><rect x="1472" y="1727.25" width="22.5" height="22.75" fill="#7ea2dc"/><rect x="1494.5" y="1727.25" width="22.5" height="22.75" fill="#fff"/>
<rect x="1673" y="1659" width="22.5" height="22.5" fill="#f4faf0" stroke="#5aa040" stroke-width="2"/><rect x="1695.5" y="1659" width="22.5" height="22.5" fill="#dce6f4"/><rect x="1718" y="1659" width="22.5" height="22.5" fill="#a8c6ec"/><rect x="1740.5" y="1659" width="22.5" height="22.5" fill="#fff"/>
<rect x="1673" y="1681.5" width="22.5" height="22.5" fill="#fff"/><rect x="1695.5" y="1681.5" width="22.5" height="22.5" fill="#dce6f4"/><rect x="1718" y="1681.5" width="22.5" height="22.5" fill="#8cb6e8"/><rect x="1740.5" y="1681.5" width="22.5" height="22.5" fill="#dce6f4"/>
<rect x="1673" y="1704" width="22.5" height="22.5" fill="#7a9ad8"/><rect x="1695.5" y="1704" width="22.5" height="22.5" fill="#a8c6ec"/><rect x="1718" y="1704" width="22.5" height="22.5" fill="#dce6f4"/><rect x="1740.5" y="1704" width="22.5" height="22.5" fill="#fff"/>
<rect x="1673" y="1726.5" width="22.5" height="22.5" fill="#fff"/><rect x="1695.5" y="1726.5" width="22.5" height="22.5" fill="#bcd0f0"/><rect x="1718" y="1726.5" width="22.5" height="22.5" fill="#5a9ae0"/><rect x="1740.5" y="1726.5" width="22.5" height="22.5" fill="#eee"/>
</g>
<text x="1722" y="1651" class="m" font-size="14" text-anchor="middle">y<tspan font-size="9" dy="-5">g</tspan></text>
<circle cx="1607" cy="1702" r="14" fill="none" stroke="#6a8ad0" stroke-width="2"/><path d="M1597 1692 L1617 1712 M1617 1692 L1597 1712" stroke="#6a8ad0" stroke-width="2"/>
<!-- planar graph -->
<g stroke="#6a8ad0" stroke-width="2" fill="none">
<path d="M1240 1775 H1328 M1240 1805 H1328 M1240 1835 H1328 M1240 1862 H1328 M1240 1775 V1862 M1270 1775 V1862 M1300 1775 V1862 M1328 1775 V1862"/>
<path d="M1404 1782 H1440 M1440 1782 V1800 M1425 1800 H1470 M1425 1800 V1835 M1455 1800 V1840 M1470 1790 V1800 M1492 1780 V1810 M1470 1800 H1492 M1404 1840 H1440 M1404 1840 V1862 M1440 1830 V1862 M1470 1840 H1492 M1470 1840 V1862 M1492 1840 V1862"/>
</g>
<g fill="#fff" stroke="#6a8ad0" stroke-width="1.5">
<circle cx="1240" cy="1775" r="3"/><circle cx="1270" cy="1775" r="3"/><circle cx="1300" cy="1775" r="3"/><circle cx="1328" cy="1775" r="3"/><circle cx="1240" cy="1805" r="3"/><circle cx="1270" cy="1805" r="3"/><circle cx="1300" cy="1805" r="3"/><circle cx="1328" cy="1805" r="3"/><circle cx="1240" cy="1835" r="3"/><circle cx="1270" cy="1835" r="3"/><circle cx="1300" cy="1835" r="3"/><circle cx="1328" cy="1835" r="3"/><circle cx="1240" cy="1862" r="3"/><circle cx="1270" cy="1862" r="3"/><circle cx="1300" cy="1862" r="3"/><circle cx="1328" cy="1862" r="3"/>
<circle cx="1404" cy="1782" r="3"/><circle cx="1440" cy="1782" r="3"/><circle cx="1425" cy="1800" r="3"/><circle cx="1470" cy="1800" r="3"/><circle cx="1492" cy="1780" r="3"/><circle cx="1492" cy="1810" r="3"/><circle cx="1404" cy="1840" r="3"/><circle cx="1440" cy="1840" r="3"/><circle cx="1404" cy="1862" r="3"/><circle cx="1440" cy="1862" r="3"/><circle cx="1470" cy="1862" r="3"/><circle cx="1492" cy="1862" r="3"/>
</g>
<text x="1594" y="1772" class="m" font-size="13" text-anchor="middle">ψ<tspan font-size="9" dy="3">g</tspan><tspan dy="-3">(x</tspan><tspan font-size="9" dy="3">0</tspan><tspan dy="-3">, x</tspan><tspan font-size="9" dy="3">j</tspan><tspan dy="-3">)</tspan></text>
<g fill="#fff" stroke="#ccc" stroke-width="1"><rect x="1585" y="1793" width="91" height="91"/><rect x="1580" y="1788" width="91" height="91"/></g>
<g fill="#fff" stroke="#4a9a30" stroke-width="1.5">
<rect x="1572" y="1780" width="22.75" height="22.75"/><rect x="1594.75" y="1780" width="22.75" height="22.75"/><rect x="1617.5" y="1780" width="22.75" height="22.75"/><rect x="1640.25" y="1780" width="22.75" height="22.75" fill="#b8e0a0"/>
<rect x="1572" y="1802.75" width="22.75" height="22.75"/><rect x="1594.75" y="1802.75" width="22.75" height="22.75"/><rect x="1617.5" y="1802.75" width="22.75" height="22.75"/><rect x="1640.25" y="1802.75" width="22.75" height="22.75"/>
<rect x="1572" y="1825.5" width="22.75" height="22.75"/><rect x="1594.75" y="1825.5" width="22.75" height="22.75"/><rect x="1617.5" y="1825.5" width="22.75" height="22.75"/><rect x="1640.25" y="1825.5" width="22.75" height="22.75"/>
<rect x="1572" y="1848.25" width="22.75" height="22.75"/><rect x="1594.75" y="1848.25" width="22.75" height="22.75"/><rect x="1617.5" y="1848.25" width="22.75" height="22.75"/><rect x="1640.25" y="1848.25" width="22.75" height="22.75"/>
</g>
<g class="sf" font-size="9" fill="#111" text-anchor="middle">
<text x="1583" y="1795">1</text><text x="1606" y="1795">e⁻¹</text><text x="1629" y="1795">e⁻²</text><text x="1652" y="1795">e⁻³</text>
<text x="1583" y="1818">e⁻³</text><text x="1606" y="1818">e⁻¹</text><text x="1629" y="1818">e⁻²</text><text x="1652" y="1818">e⁻³</text>
<text x="1583" y="1841">e⁻³</text><text x="1606" y="1841">e⁻³</text><text x="1629" y="1841">e⁻¹</text><text x="1652" y="1841">e⁻⁵</text>
<text x="1583" y="1864">e⁻⁷</text><text x="1606" y="1864">e⁻⁶</text><text x="1629" y="1864">e⁻⁵</text><text x="1652" y="1864">e⁻⁷</text>
</g>
<rect x="1705" y="1761" width="142" height="136" rx="18" fill="#f8fcf4" stroke="#6ab04a" stroke-width="2.5" stroke-dasharray="8 5"/>
<path d="M1663 1780 L1705 1762 M1663 1871 L1705 1897" stroke="#6ab04a" stroke-width="1.5" stroke-dasharray="6 4"/>
<path d="M1722 1773 H1770 V1805 M1790 1772 V1805 M1770 1805 H1790" stroke="#6a8ad0" stroke-width="2" fill="none"/><line x1="1775" y1="1805" x2="1790" y2="1805" stroke="#d01010" stroke-width="3"/>
<text x="1718" y="1790" class="m" font-size="11">𝔼<tspan font-size="8" dy="2">0,3</tspan></text>
<text x="1748" y="1846" class="sf" font-size="12" fill="#111">max</text><text x="1778" y="1836" class="m" font-size="11">w<tspan font-size="8" dy="2">0,3</tspan></text><text x="1780" y="1853" class="m" font-size="11">ζ<tspan font-size="8" dy="2">g</tspan></text><text x="1800" y="1846" class="sf" font-size="12">= 3</text>
<text x="1724" y="1889" class="m" font-size="13">ψ<tspan font-size="9" dy="3">g</tspan><tspan dy="-3">(x</tspan><tspan font-size="9" dy="3">0</tspan><tspan dy="-3">, x</tspan><tspan font-size="9" dy="3">3</tspan><tspan dy="-3">) = e</tspan><tspan font-size="9" dy="-6">−3</tspan></text>
<g class="sf" font-size="13" fill="#111"><text x="1292" y="1876" text-anchor="middle">4-connected planar graph</text><text x="1228" y="1898">edge(k, l) weight: w/ζ²</text><text x="1451" y="1894" text-anchor="middle">MST</text><text x="1651" y="1898" text-anchor="middle" font-style="italic">ψ<tspan font-size="9" dy="3">g</tspan><tspan dy="-3">(x</tspan><tspan font-size="9" dy="3">n</tspan><tspan dy="-3">, x</tspan><tspan font-size="9" dy="3">j</tspan><tspan dy="-3">)</tspan></text></g>
<text x="1362" y="1936" class="s" font-size="27" textLength="320" lengthAdjust="spacingAndGlyphs">A simple illustration for GP.</text>

<text x="1232" y="1984" font-size="27" fill="#000" textLength="313" lengthAdjust="spacingAndGlyphs">Efficient Implementations</text>
<text x="1232" y="2025" class="s" font-size="27" textLength="308" lengthAdjust="spacingAndGlyphs">Lazy propagation scheme</text>
<g class="m" font-size="25">
<text x="1228" y="2080">𝒵(δ)<tspan font-size="15" dy="5">k*</tspan><tspan dy="-5" font-style="normal"> = </tspan>𝒵(δ)<tspan font-size="15" dy="5">k*</tspan><tspan dy="-5" font-style="normal"> +</tspan></text>
<text x="1416" y="2092" font-size="64" font-style="normal">{</text>
<text x="1438" y="2063" textLength="192" lengthAdjust="spacingAndGlyphs"><tspan font-style="normal">exp(−</tspan>w<tspan font-size="15" dy="5">k,l</tspan><tspan dy="-5">/ζ</tspan><tspan font-size="15" dy="5">g</tspan><tspan font-size="15" dy="-15">2</tspan><tspan dy="10">)S(δ)</tspan><tspan font-size="15" dy="5">l</tspan></text>
<text x="1438" y="2094" textLength="275" lengthAdjust="spacingAndGlyphs"><tspan font-style="normal">exp(−</tspan>w<tspan font-size="15" dy="5">k,l</tspan><tspan dy="-5">/ζ</tspan><tspan font-size="15" dy="5">g</tspan><tspan font-size="15" dy="-15">2</tspan><tspan dy="10">)S(δ)</tspan><tspan font-size="15" dy="5">l</tspan><tspan dy="-5"> − 𝒵(δ)</tspan><tspan font-size="15" dy="5">l*</tspan></text>
<text x="1740" y="2063" textLength="173" lengthAdjust="spacingAndGlyphs">𝒰<tspan font-size="15" dy="5">k</tspan><tspan dy="-5" font-style="normal">.rank &gt; </tspan>𝒰<tspan font-size="15" dy="5">l</tspan><tspan dy="-5" font-style="normal">.rank,</tspan></text>
<text x="1740" y="2094" font-style="normal">otherwise,</text>
<text x="1232" y="2132">LProp(δ)<tspan font-size="15" dy="5">i</tspan><tspan dy="-5" font-style="normal"> = </tspan>δ<tspan font-size="15" dy="5">i</tspan><tspan dy="-5" font-style="normal"> +</tspan></text>
<text x="1436" y="2142" font-size="46" font-style="normal">∑</text>
<text x="1398" y="2158" font-size="13">r∈Asc<tspan font-size="9" dy="3">𝒢T</tspan><tspan dy="-3">(i)∪{i}</tspan></text>
<text x="1505" y="2132">𝒵(δ)<tspan font-size="15" dy="5">r</tspan></text>
</g>
<text x="1226" y="2202" class="s" font-size="27" textLength="200" lengthAdjust="spacingAndGlyphs">Time Complexity</text>
<text x="1232" y="2263" class="s" style="white-space:pre" textLength="380" lengthAdjust="spacingAndGlyphs"><tspan class="m" font-size="30">𝒪(N²)</tspan> is reduced to  <tspan class="m" font-size="30">𝒪(N log N)</tspan>.</text>
<!-- effic table -->
<rect x="1626" y="2191" width="271" height="26" fill="#e6e6e6"/>
<g class="ln"><line x1="1626" y1="2191" x2="1897" y2="2191" stroke-width="2.5"/><line x1="1626" y1="2217" x2="1897" y2="2217" stroke-width="1.2"/><line x1="1626" y1="2221" x2="1897" y2="2221" stroke-width="1.2"/><line x1="1626" y1="2272" x2="1897" y2="2272" stroke-width="2"/><line x1="1755" y1="2191" x2="1755" y2="2272" stroke-width="1.2"/><line x1="1759" y1="2191" x2="1759" y2="2272" stroke-width="1.2"/></g>
<g class="tb" font-size="22" text-anchor="middle"><text x="1690" y="2211">Effic. Imple.</text><text x="1828" y="2211">Ave. Runtime</text><text x="1690" y="2242">✗</text><text x="1828" y="2242">4.3×10<tspan font-size="13" dy="-8">3</tspan></text><text x="1690" y="2266">✓</text><text x="1828" y="2266">0.8</text></g>
<!-- LP vs MF table -->
<rect x="1980" y="1665" width="377" height="61" fill="#e6e6e6"/>
<g class="ln"><line x1="1980" y1="1663" x2="2357" y2="1663" stroke-width="3"/><line x1="1980" y1="1727" x2="2357" y2="1727" stroke-width="1.5"/><line x1="1980" y1="1732" x2="2357" y2="1732" stroke-width="1.5"/><line x1="1980" y1="1853" x2="2357" y2="1853" stroke-width="2"/><line x1="2166" y1="1663" x2="2166" y2="1853" stroke-width="1.2"/><line x1="2170" y1="1663" x2="2170" y2="1853" stroke-width="1.2"/></g>
<text x="2072" y="1691" class="mo" font-size="24" fill="#111" text-anchor="middle">LP(Ours)</text>
<text x="2263" y="1691" class="tb" font-size="27" text-anchor="middle">MeanField[<tspan class="g">10</tspan>]</text>
<g class="tb" font-size="27" text-anchor="middle">
<text y="1720"><tspan x="2038">Iteration</tspan><tspan x="2130">AP</tspan><tspan x="2228">Iteration</tspan><tspan x="2322">AP</tspan></text>
<text y="1756"><tspan x="2038">10</tspan><tspan x="2130">35.8</tspan><tspan x="2228">20</tspan><tspan x="2322">35.2</tspan></text>
<text y="1786"><tspan x="2038">20</tspan><tspan x="2130" font-weight="bold">36.0</tspan><tspan x="2228">30</tspan><tspan x="2322">35.5</tspan></text>
<text y="1816"><tspan x="2038">30</tspan><tspan x="2130">35.7</tspan><tspan x="2228">50</tspan><tspan x="2322">35.5</tspan></text>
<text y="1846"><tspan x="2038">50</tspan><tspan x="2130">35.6</tspan><tspan x="2228">100</tspan><tspan x="2322" font-weight="bold">35.9</tspan></text>
</g>
<text x="1913" y="1895" class="s" font-size="27" textLength="521" lengthAdjust="spacingAndGlyphs">Comparison between LP with MeanField[2].</text>
<!-- Algorithm -->
<g class="ln"><line x1="1919" y1="1927" x2="2458" y2="1927" stroke-width="2"/><line x1="1919" y1="1945" x2="2458" y2="1945" stroke-width="1.2"/><line x1="1919" y1="2285" x2="2458" y2="2285" stroke-width="1.5"/></g>
<g class="al">
<text x="1919" y="1940"><tspan font-weight="bold">Algorithm 1:</tspan> Algorithm for GP process</text>
<text x="1919" y="1961"><tspan font-weight="bold">Input:</tspan> Tree 𝒢<tspan font-size="9" dy="3">T</tspan><tspan dy="-3"> ∈ ℕ</tspan><tspan font-size="9" dy="-5">e×2</tspan><tspan dy="5">; Pairwise distance </tspan><tspan font-weight="bold" font-style="italic">w</tspan> ∈ ℝ<tspan font-size="9" dy="-5">N</tspan><tspan dy="5">; Dense predictions </tspan><tspan font-style="italic">φ(x)</tspan> ∈ ℝ<tspan font-size="9" dy="-5">N</tspan><tspan dy="5">;</tspan></text>
<text x="1958" y="1976">Vertex num <tspan font-style="italic">N</tspan>; Edge num <tspan font-style="italic">e</tspan> = <tspan font-style="italic">N</tspan> − 1; Set of vertices 𝒱.</text>
<text x="1919" y="1991"><tspan font-weight="bold">Output:</tspan> <tspan font-style="italic">y</tspan><tspan font-size="9" dy="-5">g</tspan><tspan dy="5"> ∈ ℝ</tspan><tspan font-size="9" dy="-5">N</tspan><tspan dy="5">.</tspan></text>
<text x="1919" y="2003">Λ ← <tspan font-weight="bold">1</tspan> ∈ ℝ<tspan font-size="9" dy="-5">N</tspan></text>
<text x="1919" y="2020"><tspan font-style="italic">F</tspan> ← {0, 1, 2, ..., <tspan font-style="italic">N</tspan> − 1}</text>
<text x="1919" y="2035">Sort {𝒢<tspan font-size="9" dy="3">T</tspan><tspan dy="-3">, </tspan><tspan font-weight="bold" font-style="italic">w</tspan>} in ascending order of <tspan font-weight="bold" font-style="italic">w</tspan>.</text>
<text x="1919" y="2050"><tspan font-weight="bold">for</tspan> (<tspan font-style="italic">k, l</tspan>) ∈ 𝒢<tspan font-size="9" dy="3">T</tspan><tspan dy="-3">, </tspan><tspan font-style="italic">w</tspan><tspan font-size="9" dy="3">i</tspan><tspan dy="-3"> ∈ </tspan><tspan font-weight="bold" font-style="italic">w</tspan> <tspan font-weight="bold">do</tspan></text>
<text x="1940" y="2064"><tspan font-style="italic">a</tspan> ← find(<tspan font-style="italic">k</tspan>), <tspan font-style="italic">b</tspan> ← find(<tspan font-style="italic">l</tspan>)</text>
<text x="1940" y="2079">Update{𝒵(φ)<tspan font-size="9" dy="3">a</tspan><tspan dy="-3">, 𝒵(Λ)</tspan><tspan font-size="9" dy="3">a</tspan><tspan dy="-3">, 𝒵(φ)</tspan><tspan font-size="9" dy="3">b</tspan><tspan dy="-3">, 𝒵(Λ)</tspan><tspan font-size="9" dy="3">b</tspan><tspan dy="-3">}</tspan></text>
<text x="1940" y="2094"><tspan font-weight="bold">if</tspan> <tspan font-style="italic">S</tspan><tspan font-size="9" dy="3">a</tspan><tspan dy="-3"> &lt; </tspan><tspan font-style="italic">S</tspan><tspan font-size="9" dy="3">b</tspan><tspan dy="-3" font-weight="bold"> then</tspan></text>
<text x="1961" y="2108">swap(<tspan font-style="italic">a, b</tspan>)</text>
<text x="1940" y="2125"><tspan font-style="italic">F</tspan><tspan font-size="9" dy="3">b</tspan><tspan dy="-3"> ← </tspan><tspan font-style="italic">a</tspan></text>
<text x="1919" y="2143"><tspan font-weight="bold">for</tspan> <tspan font-style="italic">v</tspan> ∈ 𝒱 <tspan font-weight="bold">do</tspan></text>
<text x="1940" y="2157"><tspan font-style="italic">p</tspan> ← find(<tspan font-style="italic">v</tspan>)</text>
<text x="1940" y="2172"><tspan font-weight="bold">for</tspan> δ ∈ {φ, Λ} <tspan font-weight="bold">do</tspan></text>
<text x="1961" y="2187"><tspan font-weight="bold">if</tspan> <tspan font-style="italic">p</tspan> = <tspan font-style="italic">v</tspan> <tspan font-weight="bold">then</tspan></text>
<text x="1982" y="2202" font-style="italic">LProp(δ)<tspan font-size="9" dy="3">v</tspan><tspan dy="-3"> = 𝒵(δ)</tspan><tspan font-size="9" dy="3">v</tspan><tspan dy="-3"> + δ</tspan><tspan font-size="9" dy="3">v</tspan></text>
<text x="1961" y="2215" font-weight="bold">else</text>
<text x="1982" y="2230" font-style="italic">LProp(δ)<tspan font-size="9" dy="3">v</tspan><tspan dy="-3"> = 𝒵(δ)</tspan><tspan font-size="9" dy="3">p</tspan><tspan dy="-3"> + 𝒵(δ)</tspan><tspan font-size="9" dy="3">v</tspan><tspan dy="-3"> + δ</tspan><tspan font-size="9" dy="3">v</tspan></text>
<text x="1940" y="2256" font-style="italic">y<tspan font-size="9" dy="3">v</tspan><tspan font-size="9" dy="-8">g</tspan><tspan dy="5" font-style="normal"> = </tspan><tspan font-size="9" dy="-6">LProp(φ)v</tspan><tspan font-size="9" dx="-42" dy="12">LProp(Λ)v</tspan></text>
<text x="1919" y="2280"><tspan font-weight="bold">return</tspan> <tspan font-style="italic">y</tspan><tspan font-size="9" dy="-5">g</tspan></text>
</g>
<g class="al" text-anchor="end"><text x="2438" y="2020">▷ Initialize each vertex as a connected block</text><text x="2438" y="2035">▷ Quick Sort</text><text x="2438" y="2064">▷ Find the root node with Path Compression</text><text x="2438" y="2079">▷ Add lazy tag</text><text x="2438" y="2108">▷ Merge by Rank</text><text x="2438" y="2125">▷ Merge two connected blocks</text><text x="2438" y="2256">▷ Normalization</text></g>
<g stroke="#333" stroke-width="1" fill="none"><path d="M1925 2054 V2128 H1930 M1946 2098 V2110 H1951 M1925 2146 V2266 H1930 M1946 2176 V2240 H1951 M1966 2190 V2204 M1966 2218 V2232 H1971"/></g>

<!-- ============ RIGHT COLUMN ============ -->
<text x="2454" y="386" class="h">Experiments</text>
<!-- big table -->
<rect x="2466" y="408" width="892" height="47" fill="#e6e6e6"/>
<rect x="2466" y="553" width="892" height="23.5" fill="#ececec"/>
<rect x="2466" y="783" width="892" height="24.4" fill="#ececec"/>
<g class="ln">
<line x1="2466" y1="407.4" x2="3358" y2="407.4" stroke-width="3"/>
<line x1="2466" y1="454.5" x2="3358" y2="454.5" stroke-width="1.3"/><line x1="2466" y1="458" x2="3358" y2="458" stroke-width="1.3"/>
<line x1="2466" y1="553" x2="3358" y2="553" stroke-width="1.3"/><line x1="2466" y1="576.5" x2="3358" y2="576.5" stroke-width="1.3"/>
<line x1="2466" y1="783.2" x2="3358" y2="783.2" stroke-width="1.3"/><line x1="2466" y1="807.4" x2="3358" y2="807.4" stroke-width="1.3"/>
<line x1="2466" y1="968" x2="3358" y2="968" stroke-width="2"/>
<path d="M2725 407 V553 M2725 576.5 V783 M2725 807.4 V968 M2729 407 V553 M2729 576.5 V783 M2729 807.4 V968 M2856 407 V553 M2856 576.5 V783 M2856 807.4 V968 M2948 407 V553 M2948 576.5 V783 M2948 807.4 V968 M2952 407 V553 M2952 576.5 V783 M2952 807.4 V968 M3154 407 V553 M3154 576.5 V783 M3154 807.4 V968 M3158 407 V553 M3158 576.5 V783 M3158 807.4 V968" stroke-width="1.2"/>
<path d="M2466 484 H3358 M2466 669 H3358 M2466 899.4 H3358" stroke-width="1.2" stroke-dasharray="2 2"/>
</g>
<g class="tb" font-size="22" text-anchor="middle">
<text x="2595" y="438">Method</text><text x="2792" y="438">Backbone</text><text x="2901" y="438">#Epoch</text>
<text x="3052" y="427" font-weight="bold">Pascal VOC</text><text x="3259" y="427" font-weight="bold">COCO</text>
<text y="451"><tspan x="2984">AP</tspan><tspan x="3049">AP<tspan font-size="13" dy="4">50</tspan></tspan><tspan x="3117" dy="-4">AP<tspan font-size="13" dy="4">75</tspan></tspan><tspan x="3190" dy="-4">AP</tspan><tspan x="3256">AP<tspan font-size="13" dy="4">50</tspan></tspan><tspan x="3324" dy="-4">AP<tspan font-size="13" dy="4">75</tspan></tspan></text>
<text x="2912" y="571" font-style="italic" font-size="20">SOLOv2 Framework</text>
<text x="2912" y="802" font-style="italic" font-size="20">Mask2Former Framework</text>
</g>
<g class="tb" font-size="22" text-anchor="end">
<text x="2712" y="478">BBTP <tspan class="ven">[NeurIPS19]</tspan> [<tspan class="g">16</tspan>]</text>
<text x="2712" y="501.5">BoxInst <tspan class="ven">[CVPR21]</tspan> [<tspan class="g">8</tspan>]</text>
<text x="2712" y="524">DiscoBox <tspan class="ven">[ICCV21]</tspan> [<tspan class="g">17</tspan>]</text>
<text x="2712" y="547">BoxLevelset <tspan class="ven">[ECCV22]</tspan> [<tspan class="g">9</tspan>]</text>
<text x="2712" y="595">Pairwise Loss <tspan class="ven">[CVPR21]</tspan> [<tspan class="g">8</tspan>]</text>
<text x="2712" y="617.5">TreeEnergy Loss <tspan class="ven">[CVPR22]</tspan> [<tspan class="g">7</tspan>]</text>
<text x="2712" y="640.5">CRF Loss <tspan class="ven">[CVPR23]</tspan> [<tspan class="g">10</tspan>]</text>
<text x="2712" y="686">Pairwise Loss <tspan class="ven">[CVPR21]</tspan> [<tspan class="g">8</tspan>]</text>
<text x="2712" y="709">TreeEnergy Loss <tspan class="ven">[CVPR22]</tspan> [<tspan class="g">7</tspan>]</text>
<text x="2712" y="732">CRF Loss <tspan class="ven">[CVPR23]</tspan> [<tspan class="g">10</tspan>]</text>
<text x="2712" y="824.5">Pairwise Loss <tspan class="ven">[CVPR21]</tspan> [<tspan class="g">8</tspan>]</text>
<text x="2712" y="847.5">TreeEnergy Loss <tspan class="ven">[CVPR22]</tspan> [<tspan class="g">7</tspan>]</text>
<text x="2712" y="871">CRF Loss <tspan class="ven">[CVPR23]</tspan> [<tspan class="g">10</tspan>]</text>
</g>
<g class="mo" font-size="18" fill="#111" text-anchor="end">
<text x="2712" y="663">APro(Ours)</text><text x="2712" y="754.5">APro(Ours)</text><text x="2712" y="777.5">APro(Ours)</text><text x="2712" y="893.5">APro(Ours)</text><text x="2712" y="916">APro(Ours)</text><text x="2712" y="939.5">APro(Ours)</text><text x="2712" y="962.5">APro(Ours)</text>
</g>
<g class="tb" font-size="22" text-anchor="middle">
<text y="478"><tspan x="2792">ResNet-101</tspan><tspan x="2901">12</tspan><tspan x="2984">23.1</tspan><tspan x="3049">54.1</tspan><tspan x="3117">17.1</tspan><tspan x="3190">21.1</tspan><tspan x="3256">45.5</tspan><tspan x="3324">17.2</tspan></text>
<text y="501.5"><tspan x="2792">ResNet-50</tspan><tspan x="2901">36</tspan><tspan x="2984">34.3</tspan><tspan x="3049">58.6</tspan><tspan x="3117">34.6</tspan><tspan x="3190">31.8</tspan><tspan x="3256">54.4</tspan><tspan x="3324">32.5</tspan></text>
<text y="524"><tspan x="2792">ResNet-50</tspan><tspan x="2901">36</tspan><tspan x="2984">-</tspan><tspan x="3049">59.8</tspan><tspan x="3117">35.5</tspan><tspan x="3190">31.4</tspan><tspan x="3256">52.6</tspan><tspan x="3324">32.2</tspan></text>
<text y="547"><tspan x="2792">ResNet-50</tspan><tspan x="2901">36</tspan><tspan x="2984">36.3</tspan><tspan x="3049">64.2</tspan><tspan x="3117">35.9</tspan><tspan x="3190">31.4</tspan><tspan x="3256">53.7</tspan><tspan x="3324">31.8</tspan></text>
<text y="595"><tspan x="2792">ResNet-50</tspan><tspan x="2901">12</tspan><tspan x="2984">35.7</tspan><tspan x="3049">64.3</tspan><tspan x="3117">35.1</tspan><tspan x="3190">31.0</tspan><tspan x="3256">52.8</tspan><tspan x="3324">31.5</tspan></text>
<text y="617.5"><tspan x="2792">ResNet-50</tspan><tspan x="2901">12</tspan><tspan x="2984">35.0</tspan><tspan x="3049">64.4</tspan><tspan x="3117">34.7</tspan><tspan x="3190">30.9</tspan><tspan x="3256">52.9</tspan><tspan x="3324">31.3</tspan></text>
<text y="640.5"><tspan x="2792">ResNet-50</tspan><tspan x="2901">12</tspan><tspan x="2984">35.0</tspan><tspan x="3049">64.7</tspan><tspan x="3117">34.9</tspan><tspan x="3190">30.9</tspan><tspan x="3256">53.1</tspan><tspan x="3324">31.4</tspan></text>
<text y="663"><tspan x="2792">ResNet-50</tspan><tspan x="2901">12</tspan><tspan font-weight="bold"><tspan x="2984">37.1</tspan><tspan x="3049">65.1</tspan><tspan x="3117">37.0</tspan><tspan x="3190">32.0</tspan><tspan x="3256">53.4</tspan><tspan x="3324">32.9</tspan></tspan></text>
<text y="686"><tspan x="2792">ResNet-50</tspan><tspan x="2901">36</tspan><tspan x="2984">36.5</tspan><tspan x="3049">63.4</tspan><tspan x="3117">38.1</tspan><tspan x="3190">32.4</tspan><tspan x="3256">54.5</tspan><tspan x="3324">33.4</tspan></text>
<text y="709"><tspan x="2792">ResNet-50</tspan><tspan x="2901">36</tspan><tspan x="2984">36.1</tspan><tspan x="3049">63.5</tspan><tspan x="3117">36.1</tspan><tspan x="3190">31.4</tspan><tspan x="3256">54.0</tspan><tspan x="3324">31.2</tspan></text>
<text y="732"><tspan x="2792">ResNet-50</tspan><tspan x="2901">36</tspan><tspan x="2984">35.9</tspan><tspan x="3049">64.0</tspan><tspan x="3117">35.7</tspan><tspan x="3190">32.5</tspan><tspan x="3256">54.9</tspan><tspan x="3324">33.2</tspan></text>
<text y="754.5"><tspan x="2792">ResNet-50</tspan><tspan x="2901">36</tspan><tspan x="2984">38.4</tspan><tspan x="3049">65.4</tspan><tspan x="3117">39.8</tspan><tspan x="3190">32.9</tspan><tspan x="3256">55.2</tspan><tspan x="3324">33.6</tspan></text>
<text y="777.5"><tspan x="2792">ResNet-101</tspan><tspan x="2901">36</tspan><tspan font-weight="bold"><tspan x="2984">40.5</tspan><tspan x="3049">67.9</tspan><tspan x="3117">42.6</tspan><tspan x="3190">34.3</tspan><tspan x="3256">57.0</tspan><tspan x="3324">35.3</tspan></tspan></text>
<text y="824.5"><tspan x="2792">ResNet-50</tspan><tspan x="2901">12</tspan><tspan x="2984">35.2</tspan><tspan x="3049">62.9</tspan><tspan x="3117">33.9</tspan><tspan x="3190">33.8</tspan><tspan x="3256">57.1</tspan><tspan x="3324">34.0</tspan></text>
<text y="847.5"><tspan x="2792">ResNet-50</tspan><tspan x="2901">12</tspan><tspan x="2984">36.0</tspan><tspan x="3049">65.0</tspan><tspan x="3117">34.3</tspan><tspan x="3190">33.5</tspan><tspan x="3256">56.7</tspan><tspan x="3324">33.7</tspan></text>
<text y="871"><tspan x="2792">ResNet-50</tspan><tspan x="2901">12</tspan><tspan x="2984">35.7</tspan><tspan x="3049">64.3</tspan><tspan x="3117">35.2</tspan><tspan x="3190">33.5</tspan><tspan x="3256">57.5</tspan><tspan x="3324">33.8</tspan></text>
<text y="893.5"><tspan x="2792">ResNet-50</tspan><tspan x="2901">12</tspan><tspan x="2984">37.0</tspan><tspan x="3049">65.1</tspan><tspan x="3117">37.0</tspan><tspan x="3190">34.4</tspan><tspan x="3256">57.7</tspan><tspan x="3324">35.3</tspan></text>
<text y="916"><tspan x="2792">ResNet-50</tspan><tspan x="2901">50</tspan><tspan x="2984">42.3</tspan><tspan x="3049">70.6</tspan><tspan x="3117">44.5</tspan><tspan x="3190">36.1</tspan><tspan x="3256">62.0</tspan><tspan x="3324">36.7</tspan></text>
<text y="939.5"><tspan x="2792">ResNet-101</tspan><tspan x="2901">50</tspan><tspan x="2984">43.6</tspan><tspan x="3049">72.0</tspan><tspan x="3117">45.7</tspan><tspan x="3190">38.0</tspan><tspan x="3256">63.6</tspan><tspan x="3324">38.7</tspan></text>
<text y="962.5"><tspan x="2792">Swin-L</tspan><tspan x="2901">50</tspan><tspan font-weight="bold"><tspan x="2984">49.6</tspan><tspan x="3049">77.6</tspan><tspan x="3117">53.1</tspan><tspan x="3190">41.0</tspan><tspan x="3256">68.3</tspan><tspan x="3324">41.9</tspan></tspan></text>
</g>
<text x="2505" y="998" class="s" font-size="28" textLength="831" lengthAdjust="spacingAndGlyphs">Performance Comparisons on box-supervised instance segmentation.</text>

<!-- CLIP table -->
<rect x="2554" y="1021" width="723" height="29" fill="#e6e6e6"/>
<g class="ln">
<line x1="2554" y1="1020" x2="3277" y2="1020" stroke-width="2.5"/><line x1="2554" y1="1050" x2="3277" y2="1050" stroke-width="1.2"/><line x1="2554" y1="1055" x2="3277" y2="1055" stroke-width="1.2"/><line x1="2554" y1="1218" x2="3277" y2="1218" stroke-width="2"/>
<path d="M2554 1110 H3277 M2554 1164 H3277" stroke-width="1.2" stroke-dasharray="2 2"/>
<path d="M2798 1020 V1218 M2802 1020 V1218 M2961 1020 V1218 M2965 1020 V1218 M3077 1020 V1218 M3082 1020 V1218 M3180 1020 V1218 M3184 1020 V1218" stroke-width="1.2"/>
</g>
<g class="tb" font-size="24" text-anchor="middle">
<text x="2676" y="1043">Method</text><text x="2881" y="1043">CLIP Model</text><text x="3020" y="1043" font-weight="bold">VOC2012</text><text x="3131" y="1043" font-weight="bold">Context</text><text x="3233" y="1043" font-weight="bold">COCO.</text>
<text x="2881" y="1090">ResNet-50</text><text x="2881" y="1144">ResNet-50×16</text><text x="2881" y="1198">ViT-B/16</text>
<text y="1075"><tspan x="3020">58.0</tspan><tspan x="3131">23.9</tspan><tspan x="3233">13.6</tspan></text>
<text y="1129"><tspan x="3020">67.5</tspan><tspan x="3131">25.2</tspan><tspan x="3233">17.3</tspan></text>
<text y="1184"><tspan x="3020">73.6</tspan><tspan x="3131">31.1</tspan><tspan x="3233">18.0</tspan></text>
<text x="3020" y="1103"><tspan font-weight="bold">61.6</tspan><tspan font-size="15" fill="#3ab03a">↑3.6</tspan></text><text x="3131" y="1103"><tspan font-weight="bold">25.4</tspan><tspan font-size="15" fill="#3ab03a">↑1.5</tspan></text><text x="3233" y="1103"><tspan font-weight="bold">14.6</tspan><tspan font-size="15" fill="#3ab03a">↑1.0</tspan></text>
<text x="3020" y="1157"><tspan font-weight="bold">70.4</tspan><tspan font-size="15" fill="#3ab03a">↑2.9</tspan></text><text x="3131" y="1157"><tspan font-weight="bold">26.5</tspan><tspan font-size="15" fill="#3ab03a">↑1.3</tspan></text><text x="3233" y="1157"><tspan font-weight="bold">18.2</tspan><tspan font-size="15" fill="#3ab03a">↑0.9</tspan></text>
<text x="3020" y="1211"><tspan font-weight="bold">75.1</tspan><tspan font-size="15" fill="#3ab03a">↑1.5</tspan></text><text x="3131" y="1211"><tspan font-weight="bold">32.6</tspan><tspan font-size="15" fill="#3ab03a">↑1.5</tspan></text><text x="3233" y="1211"><tspan font-weight="bold">19.5</tspan><tspan font-size="15" fill="#3ab03a">↑1.5</tspan></text>
</g>
<g class="tb" font-size="24" text-anchor="end">
<text x="2792" y="1075">MaskCLIP+ <tspan class="ven" font-size="13">[ECCV22]</tspan> [<tspan class="g">40</tspan>]</text>
<text x="2792" y="1129">MaskCLIP+ <tspan class="ven" font-size="13">[ECCV22]</tspan> [<tspan class="g">40</tspan>]</text>
<text x="2792" y="1184">MaskCLIP+ <tspan class="ven" font-size="13">[ECCV22]</tspan> [<tspan class="g">40</tspan>]</text>
</g>
<g class="mo" font-size="21" fill="#111" text-anchor="end"><text x="2792" y="1103">APro(Ours)</text><text x="2792" y="1157">APro(Ours)</text><text x="2792" y="1211">APro(Ours)</text></g>
<text x="2587" y="1249" class="s" font-size="28" textLength="643" lengthAdjust="spacingAndGlyphs">Comparisons on CLIP-guided semantic segmentation.</text>

<!-- point/scribble table -->
<rect x="2466" y="1273" width="573" height="23" fill="#e6e6e6"/>
<g class="ln">
<line x1="2466" y1="1272" x2="3039" y2="1272" stroke-width="2.5"/><line x1="2466" y1="1296" x2="3039" y2="1296" stroke-width="1.2"/><line x1="2466" y1="1300" x2="3039" y2="1300" stroke-width="1.2"/><line x1="2466" y1="1366" x2="3039" y2="1366" stroke-width="1.2"/><line x1="2466" y1="1522" x2="3039" y2="1522" stroke-width="2"/>
<path d="M2687 1272 V1522 M2691 1272 V1522 M2794 1272 V1522 M2894 1272 V1522 M2983 1272 V1522 M2986 1272 V1522" stroke-width="1.2"/>
</g>
<g class="tb" font-size="20" text-anchor="middle">
<text x="2576" y="1291">Method</text><text x="2743" y="1291">Backbone</text><text x="2844" y="1291">Supervision</text><text x="2938" y="1291">CRF Post.</text><text x="3013" y="1291" font-weight="bold">mIoU</text>
<text x="2844" y="1340">Point</text><text x="2844" y="1441">Scribble</text>
<text y="1319"><tspan x="2743">DeepLabV2</tspan><tspan x="2937">✓</tspan><tspan x="3013">57.0</tspan></text>
<text y="1340"><tspan x="2743">LTF</tspan><tspan x="2937">✗</tspan><tspan x="3013">66.8</tspan></text>
<text y="1361"><tspan x="2743">LTF</tspan><tspan x="2937">✗</tspan><tspan x="3013" font-weight="bold">67.7</tspan></text>
<text y="1384"><tspan x="2743">DeepLabV2</tspan><tspan x="2937">✓</tspan><tspan x="3013">74.5</tspan></text>
<text y="1407"><tspan x="2743">DeepLabV2</tspan><tspan x="2937">✓</tspan><tspan x="3013">75.0</tspan></text>
<text y="1429"><tspan x="2743">DeepLabV2</tspan><tspan x="2937">✓</tspan><tspan x="3013">75.0</tspan></text>
<text y="1452"><tspan x="2743">DeepLabV2</tspan><tspan x="2937">✗</tspan><tspan x="3013">72.8</tspan></text>
<text y="1474"><tspan x="2743">DeepLabV3</tspan><tspan x="2937">✗</tspan><tspan x="3013">74.9</tspan></text>
<text y="1496"><tspan x="2743">LTF</tspan><tspan x="2937">✗</tspan><tspan x="3013">76.2</tspan></text>
<text y="1517"><tspan x="2743">LTF</tspan><tspan x="2937">✗</tspan><tspan x="3013" font-weight="bold">76.6</tspan></text>
</g>
<g class="tb" font-size="20" text-anchor="end">
<text x="2683" y="1319"><tspan font-size="12" dy="-7">†</tspan><tspan dy="7">KernelCut Loss </tspan><tspan class="ven" font-size="11">[ECCV18]</tspan> [<tspan class="g">6</tspan>]</text>
<text x="2683" y="1340">*TEL <tspan class="ven" font-size="11">[CVPR22]</tspan> [<tspan class="g">7</tspan>]</text>
<text x="2683" y="1384"><tspan font-size="12" dy="-7">†</tspan><tspan dy="7">NormCut Loss </tspan><tspan class="ven" font-size="11">[CVPR18]</tspan> [<tspan class="g">59</tspan>]</text>
<text x="2683" y="1407"><tspan font-size="12" dy="-7">†</tspan><tspan dy="7">DenseCRF Loss </tspan><tspan class="ven" font-size="11">[ECCV18]</tspan> [<tspan class="g">6</tspan>]</text>
<text x="2683" y="1429"><tspan font-size="12" dy="-7">†</tspan><tspan dy="7">KernelCut Loss </tspan><tspan class="ven" font-size="11">[ECCV18]</tspan> [<tspan class="g">6</tspan>]</text>
<text x="2683" y="1452"><tspan font-size="12" dy="-7">†</tspan><tspan dy="7">GridCRF Loss </tspan><tspan class="ven" font-size="11">[ICCV19]</tspan> [<tspan class="g">36</tspan>]</text>
<text x="2683" y="1474">PSI <tspan class="ven" font-size="11">[ICCV21]</tspan> [<tspan class="g">36</tspan>]</text>
<text x="2683" y="1496">*TEL <tspan class="ven" font-size="11">[CVPR22]</tspan> [<tspan class="g">7</tspan>]</text>
</g>
<g class="mo" font-size="17" fill="#111" text-anchor="end"><text x="2683" y="1361">APro(Ours)</text><text x="2683" y="1517">APro(Ours)</text></g>
<text x="2445" y="1550" class="s" font-size="28" textLength="721" lengthAdjust="spacingAndGlyphs">Results on point/scribble-supervised semantic segmentation.</text>

<!-- ablation table -->
<rect x="3126" y="1316" width="220" height="35" fill="#e6e6e6"/>
<g class="ln">
<line x1="3126" y1="1315" x2="3346" y2="1315" stroke-width="3"/><line x1="3126" y1="1350" x2="3346" y2="1350" stroke-width="1.3"/><line x1="3126" y1="1354" x2="3346" y2="1354" stroke-width="1.3"/><line x1="3126" y1="1455" x2="3346" y2="1455" stroke-width="2"/>
<path d="M3262 1315 V1455 M3266 1315 V1455" stroke-width="1.2"/>
</g>
<g class="tb" font-size="30" text-anchor="middle">
<text x="3194" y="1343">Method</text><text x="3306" y="1343">AP</text>
<text x="3194" y="1381">GP-LP-C</text><text x="3306" y="1381">36.8</text>
<text x="3194" y="1414">LP-GP-C</text><text x="3306" y="1414">37.7</text>
<text x="3194" y="1446">GP-LP-P</text><text x="3306" y="1446" font-weight="bold">38.4</text>
</g>
<text x="3062" y="1484" class="s" font-size="28" textLength="373" lengthAdjust="spacingAndGlyphs">Ablation on generation manner.</text>

<!-- unary table -->
<rect x="2461" y="1573" width="433" height="29" fill="#e6e6e6"/>
<g class="ln">
<line x1="2461" y1="1572" x2="2894" y2="1572" stroke-width="2.5"/><line x1="2461" y1="1602" x2="2894" y2="1602" stroke-width="1.2"/><line x1="2461" y1="1605" x2="2894" y2="1605" stroke-width="1.2"/><line x1="2461" y1="1697" x2="2894" y2="1697" stroke-width="1.5"/>
<path d="M2828 1572 V1697 M2831 1572 V1697" stroke-width="1.2"/>
</g>
<g class="tb" font-size="22" text-anchor="middle">
<text x="2495" y="1592">Unary</text><text x="2606" y="1592">Global Pairwise</text><text x="2754" y="1592">Local Pairwise</text><text x="2858" y="1592">AP</text>
<text y="1620"><tspan x="2495">✓</tspan><tspan x="2858">25.9</tspan></text>
<text y="1643"><tspan x="2495">✓</tspan><tspan x="2606">✓</tspan><tspan x="2858">36.3</tspan></text>
<text y="1667"><tspan x="2495">✓</tspan><tspan x="2754">✓</tspan><tspan x="2858">36.0</tspan></text>
<text y="1690"><tspan x="2495">✓</tspan><tspan x="2606">✓</tspan><tspan x="2754">✓</tspan><tspan x="2858" font-weight="bold">38.4</tspan></text>
</g>
<text x="2492" y="1729" class="s" font-size="28" textLength="424" lengthAdjust="spacingAndGlyphs">Effects of unary and pairwise terms.</text>
<!-- tree table -->
<rect x="3002" y="1579" width="398" height="28" fill="#e6e6e6"/>
<g class="ln">
<line x1="3002" y1="1578" x2="3400" y2="1578" stroke-width="2.5"/><line x1="3002" y1="1607" x2="3400" y2="1607" stroke-width="1.2"/><line x1="3002" y1="1611" x2="3400" y2="1611" stroke-width="1.2"/><line x1="3002" y1="1693" x2="3400" y2="1693" stroke-width="1.5"/>
<path d="M3334 1578 V1693 M3338 1578 V1693" stroke-width="1.2"/>
</g>
<g class="tb" font-size="24" text-anchor="middle">
<text x="3168" y="1599">Method</text><text x="3370" y="1599">AP</text>
<text x="3168" y="1632">TreeFilter [<tspan class="g">19</tspan>]</text><text x="3370" y="1632">36.1</text>
<text x="3168" y="1659">TreeFilter [<tspan class="g">19</tspan>] + Local Pairwise</text><text x="3370" y="1659">36.8</text>
<text x="3168" y="1685">Global + Local Pairwise (<tspan class="mo" font-size="21">Ours</tspan>)</text><text x="3370" y="1685" font-weight="bold">38.4</text>
</g>
<text x="2958" y="1728" class="s" font-size="28" textLength="482" lengthAdjust="spacingAndGlyphs">Comparisons with tree-based method[3].</text>

<!-- visual comparison -->
<rect x="2571" y="1747" width="191" height="122" fill="#3ec64a"/>
<path d="M2571 1755 L2730 1747 L2755 1840 L2680 1855 L2600 1840 L2571 1830 Z" fill="#c54a3a"/><circle cx="2720" cy="1840" r="22" fill="none" stroke="#d03020" stroke-width="5"/>
<rect x="2768" y="1747" width="192" height="122" fill="#3ec64a"/>
<path d="M2768 1755 L2925 1747 L2950 1840 L2880 1855 L2800 1838 L2768 1828 Z" fill="#c54a3a"/><circle cx="2918" cy="1840" r="22" fill="none" stroke="#d03020" stroke-width="5"/>
<rect x="2972" y="1747" width="193" height="122" fill="#40c860"/><rect x="2972" y="1747" width="193" height="28" fill="#3ea8e8"/><rect x="2972" y="1775" width="193" height="58" fill="#c07ab2"/><path d="M2972 1747 L2995 1747 L2990 1775 L2972 1778 Z" fill="#c8c040"/>
<rect x="3170" y="1747" width="193" height="122" fill="#40c860"/><rect x="3170" y="1747" width="193" height="26" fill="#3ec8c8"/><rect x="3170" y="1773" width="193" height="60" fill="#c47ab6"/><path d="M3170 1747 L3190 1747 L3188 1772 L3170 1775 Z" fill="#c8c040"/>
<rect x="2571" y="1875" width="191" height="147" fill="#40c8a8"/>
<path d="M2600 1900 C2620 1880 2660 1885 2700 1910 L2730 1935 L2690 1950 L2660 1940 L2650 2000 L2630 2000 L2640 1940 L2610 1930 Z" fill="#c046c8"/><path d="M2571 1885 L2600 1880 L2605 1915 L2575 1920 Z" fill="#e0c040"/>
<rect x="2768" y="1875" width="192" height="147" fill="#40c8a8"/>
<path d="M2800 1900 C2820 1880 2860 1885 2900 1910 L2930 1935 L2890 1950 L2860 1940 L2850 2000 L2835 2000 L2842 1940 L2812 1930 Z" fill="#c046c8"/><path d="M2768 1885 L2795 1880 L2800 1915 L2772 1920 Z" fill="#e0c040"/>
<rect x="2972" y="1875" width="193" height="147" fill="#2a8ee0"/><path d="M2972 1960 C3030 1950 3100 1970 3165 1990 L3165 2022 L2972 2022 Z" fill="#e04020"/><path d="M3000 1950 L3040 1935 L3055 1960 L3020 1975 Z" fill="#c050c0"/><rect x="2990" y="1985" width="30" height="15" fill="#80c040"/>
<rect x="3170" y="1875" width="193" height="147" fill="#2a8ee0"/><path d="M3170 1960 C3230 1950 3300 1970 3363 1990 L3363 2022 L3170 2022 Z" fill="#e04020"/><path d="M3215 1945 L3240 1935 L3250 1960 L3225 1965 Z" fill="#c050c0"/>
<g text-anchor="middle" fill="#111"><text x="2673" y="2039" class="sf" font-size="19">MaskCLIP+</text><text x="2861" y="2039" class="mo" font-size="18">APro(Ours)</text><text x="3073" y="2039" class="sf" font-size="19">MaskCLIP+</text><text x="3263" y="2039" class="mo" font-size="18">APro(Ours)</text></g>
<text x="2707" y="2069" class="s" font-size="28" textLength="539" lengthAdjust="spacingAndGlyphs">Visual comparison results with MaskCLIP+[4]</text>

<text x="2497" y="2099" font-size="27" fill="#000" textLength="139" lengthAdjust="spacingAndGlyphs">References</text>
<g class="s" font-size="18">
<text x="2502" y="2128" textLength="520" lengthAdjust="spacingAndGlyphs">[1] Tian Zhi et al. Boxinst: High-performance instance segmentation</text>
<text x="2502" y="2162" textLength="308" lengthAdjust="spacingAndGlyphs">with box annotations.  In CVPR2021.</text>
<text x="2502" y="2197" textLength="694" lengthAdjust="spacingAndGlyphs">[2]  Shiyi Lan et al. Vision transformers are good mask auto-labelers. In CVPR2023.</text>
<text x="2502" y="2232" textLength="660" lengthAdjust="spacingAndGlyphs">[3] Zhiyuan Liang et al. Tree energy loss: Towards sparsely annotated semantic</text>
<text x="2502" y="2259" textLength="244" lengthAdjust="spacingAndGlyphs">segmentation. In CVPR2022.</text>
<text x="2502" y="2294" textLength="534" lengthAdjust="spacingAndGlyphs">[4] Zhou et al, Extract free dense labels from clip. In ECCV2022.</text>
</g>
<!-- QR -->
<rect x="3252" y="2104" width="178" height="178" fill="url(#qa)"/>
<rect x="3252" y="2104" width="178" height="178" fill="url(#qb)"/>
<g>
<rect x="3252" y="2104" width="57" height="57" fill="#fff"/><rect x="3252" y="2104" width="50" height="50" fill="#000"/><rect x="3259" y="2111" width="36" height="36" fill="#fff"/><rect x="3266" y="2118" width="22" height="22" fill="#000"/>
<rect x="3373" y="2104" width="57" height="57" fill="#fff"/><rect x="3380" y="2104" width="50" height="50" fill="#000"/><rect x="3387" y="2111" width="36" height="36" fill="#fff"/><rect x="3394" y="2118" width="22" height="22" fill="#000"/>
<rect x="3252" y="2225" width="57" height="57" fill="#fff"/><rect x="3252" y="2232" width="50" height="50" fill="#000"/><rect x="3259" y="2239" width="36" height="36" fill="#fff"/><rect x="3266" y="2246" width="22" height="22" fill="#000"/>
</g>
</svg>
</body></html>
